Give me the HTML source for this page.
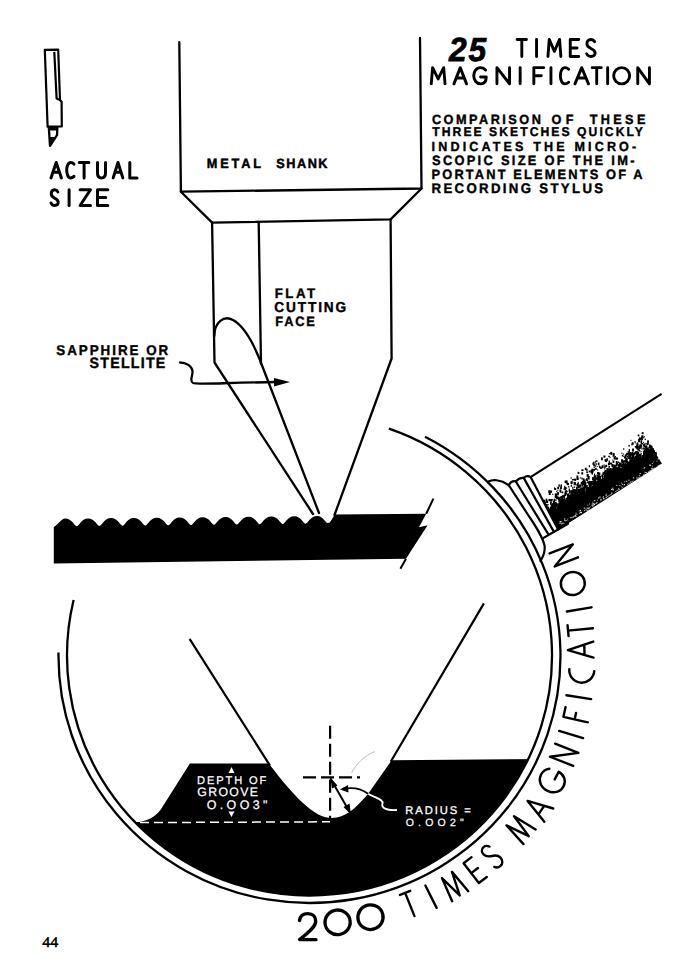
<!DOCTYPE html>
<html><head><meta charset="utf-8"><style>
html,body{margin:0;padding:0;background:#fff;overflow:hidden}
svg{display:block}
text{font-family:"Liberation Sans", sans-serif;text-rendering:geometricPrecision}
</style></head><body>
<svg width="698" height="973" viewBox="0 0 698 973">
<g fill="none" stroke="#000" stroke-width="2.2" stroke-linejoin="round">
<path d="M44.8,49.8 L58.2,49.6 L60,100 L61.6,101.8 L61.8,126.4 L47.6,126.6 Z"/>
<path d="M54.3,51.9 L56.6,98.4 L60,100"/>
</g>
<path d="M48.8,127.2 L57.4,127.2 L57,135.2 L50,145.8 Z" fill="none" stroke="#000" stroke-width="2.3" stroke-linejoin="round"/>
<path d="M48.8,127 L57.6,127 L57.4,130.5 L48.9,130.5 Z M49.3,137 L55.5,137 L50,146 Z" fill="#000"/>
<g fill="none" stroke="#000" stroke-width="3.0" stroke-linecap="round" stroke-linejoin="round"><path transform="translate(51.00,177.90)" d="M0,0 L5.20,-15.40 L10.40,0 M2.08,-5.54 L8.32,-5.54"/><path transform="translate(66.70,177.90)" d="M7.30,-13.86 C5.84,-15.40 4.53,-15.40 4.01,-15.40 C1.46,-15.40 0,-11.55 0,-7.70 C0,-3.85 1.46,0 4.01,0 C4.53,0 5.84,0 7.30,-1.54"/><path transform="translate(79.30,177.90)" d="M0,-15.40 L9.60,-15.40 M4.80,-15.40 L4.80,0"/><path transform="translate(97.50,177.90)" d="M0,-15.40 L0,-4.62 C0,-1.23 1.60,0 4.00,0 C6.40,0 8.00,-1.23 8.00,-4.62 L8.00,-15.40"/><path transform="translate(113.20,177.90)" d="M0,0 L4.80,-15.40 L9.60,0 M1.92,-5.54 L7.68,-5.54"/><path transform="translate(129.80,177.90)" d="M0,-15.40 L0,0 L7.20,0"/></g>
<g fill="none" stroke="#000" stroke-width="3.0" stroke-linecap="round" stroke-linejoin="round"><path transform="translate(51.00,205.50)" d="M6.84,-13.59 C5.90,-15.33 4.90,-15.80 3.60,-15.80 C1.44,-15.80 0.22,-14.22 0.22,-11.69 C0.22,-9.16 1.80,-8.22 3.60,-7.43 C5.62,-6.48 7.20,-5.37 7.20,-3.16 C7.20,-0.95 5.76,0 3.60,0 C2.16,0 0.72,-0.79 0,-2.53"/><path transform="translate(69.10,205.50)" d="M0,-15.80 L0,0"/><path transform="translate(80.10,205.50)" d="M0,-15.80 L10.40,-15.80 L0,0 L10.40,0"/><path transform="translate(97.50,205.50)" d="M10.30,-15.80 L0,-15.80 L0,0 L10.30,0 M0,-7.90 L8.24,-7.90"/></g>
<g fill="none" stroke="#000" stroke-width="2.3" stroke-linecap="round" stroke-linejoin="round">
<path d="M179.3,42.1 L180.9,191.7 L421.5,188.5 L420,38"/>
<path d="M180.9,191.7 L212.1,222.6 L390.6,219.4 L421.5,188.5"/>
<path d="M212.1,222.6 L214.5,362.5 L313,514"/>
<path d="M258.7,223 L261,364"/>
<path d="M390.6,219.4 L391.6,358.5 L334.5,515"/>
<path d="M214.3,336 C214.5,322 224,315 233,320 C244,326 255,346 263,368 L319,513"/>
<path d="M180,362.5 C186,362.5 192,366 192.5,371 C193,376 189,381 193,383 C196,384.5 205,383.5 276,382"/>
</g>
<path d="M274,378 L290,382 L274,386.5 Z" fill="#000"/>
<text transform="translate(206.81,167.55) scale(0.9500,1)" font-size="13.37" font-weight="bold" font-style="normal" letter-spacing="3.03" fill="#000" stroke="#000" stroke-width="0.5" stroke-linejoin="round">METAL</text>
<text transform="translate(276.29,167.55) scale(0.9500,1)" font-size="13.37" font-weight="bold" font-style="normal" letter-spacing="1.60" fill="#000" stroke="#000" stroke-width="0.5" stroke-linejoin="round">SHANK</text>
<text transform="translate(274.63,297.80) scale(0.9500,1)" font-size="13.95" font-weight="bold" font-style="normal" letter-spacing="2.71" fill="#000" stroke="#000" stroke-width="0.4" stroke-linejoin="round">FLAT</text>
<text transform="translate(274.34,312.00) scale(0.9500,1)" font-size="14.39" font-weight="bold" font-style="normal" letter-spacing="1.96" fill="#000" stroke="#000" stroke-width="0.4" stroke-linejoin="round">CUTTING</text>
<text transform="translate(275.35,326.20) scale(0.9500,1)" font-size="13.52" font-weight="bold" font-style="normal" letter-spacing="1.86" fill="#000" stroke="#000" stroke-width="0.4" stroke-linejoin="round">FACE</text>
<text transform="translate(56.22,355.20) scale(0.9500,1)" font-size="14.10" font-weight="bold" font-style="normal" letter-spacing="2.08" fill="#000" stroke="#000" stroke-width="0.4" stroke-linejoin="round">SAPPHIRE OR</text>
<text transform="translate(89.60,368.10) scale(0.9500,1)" font-size="14.97" font-weight="bold" font-style="normal" letter-spacing="1.29" fill="#000" stroke="#000" stroke-width="0.4" stroke-linejoin="round">STELLITE</text>
<text transform="translate(449.11,60.60) scale(0.9500,1)" font-size="33.38" font-weight="bold" font-style="italic" letter-spacing="1.84" fill="#000" stroke="#000" stroke-width="0.8" stroke-linejoin="round">25</text>
<g fill="none" stroke="#000" stroke-width="2.9" stroke-linecap="round" stroke-linejoin="round"><path transform="translate(517.15,56.45)" d="M0,-17.00 L9.30,-17.00 M4.65,-17.00 L4.65,0"/><path transform="translate(536.55,56.45)" d="M0,-17.00 L0,0"/><path transform="translate(547.95,56.45)" d="M0,0 L1.29,-17.00 L6.45,-5.10 L11.61,-17.00 L12.90,0"/><path transform="translate(570.25,56.45)" d="M8.50,-17.00 L0,-17.00 L0,0 L8.50,0 M0,-8.50 L6.80,-8.50"/><path transform="translate(586.65,56.45)" d="M8.07,-14.62 C6.97,-16.49 5.78,-17.00 4.25,-17.00 C1.70,-17.00 0.25,-15.30 0.25,-12.58 C0.25,-9.86 2.12,-8.84 4.25,-7.99 C6.63,-6.97 8.50,-5.78 8.50,-3.40 C8.50,-1.02 6.80,0 4.25,0 C2.55,0 0.85,-0.85 0,-2.72"/></g>
<g fill="none" stroke="#000" stroke-width="2.9" stroke-linecap="round" stroke-linejoin="round"><path transform="translate(431.25,83.85)" d="M0,0 L1.38,-16.20 L6.90,-4.86 L12.42,-16.20 L13.80,0"/><path transform="translate(453.95,83.85)" d="M0,0 L6.30,-16.20 L12.60,0 M2.52,-5.83 L10.08,-5.83"/><path transform="translate(473.75,83.85)" d="M11.87,-13.77 C10.00,-16.20 8.12,-16.20 6.50,-16.20 C2.50,-16.20 0,-12.15 0,-8.10 C0,-3.56 2.75,0 6.87,0 C10.62,0 12.50,-2.43 12.50,-6.80 L6.87,-6.80"/><path transform="translate(496.95,83.85)" d="M0,0 L0,-16.20 L12.60,0 L12.60,-16.20"/><path transform="translate(520.15,83.85)" d="M0,-16.20 L0,0"/><path transform="translate(533.85,83.85)" d="M0,0 L0,-16.20 L9.90,-16.20 M0,-8.10 L7.43,-8.10"/><path transform="translate(550.95,83.85)" d="M0,-16.20 L0,0"/><path transform="translate(560.35,83.85)" d="M8.30,-14.58 C6.64,-16.20 5.15,-16.20 4.57,-16.20 C1.66,-16.20 0,-12.15 0,-8.10 C0,-4.05 1.66,0 4.57,0 C5.15,0 6.64,0 8.30,-1.62"/><path transform="translate(574.95,83.85)" d="M0,0 L6.75,-16.20 L13.50,0 M2.70,-5.83 L10.80,-5.83"/><path transform="translate(592.15,83.85)" d="M0,-16.20 L9.10,-16.20 M4.55,-16.20 L4.55,0"/><path transform="translate(607.65,83.85)" d="M0,-16.20 L0,0"/><path transform="translate(613.65,83.85)" d="M8.00,-16.20 A8.00,8.10 0 1 0 8.00,0 A8.00,8.10 0 1 0 8.00,-16.20 Z"/><path transform="translate(637.75,83.85)" d="M0,0 L0,-16.20 L11.70,0 L11.70,-16.20"/></g>
<text transform="translate(431.88,123.60) scale(0.9500,1)" font-size="13.37" font-weight="bold" font-style="normal" letter-spacing="2.63" fill="#000" stroke="#000" stroke-width="0.4" stroke-linejoin="round">COMPARISON</text>
<text transform="translate(551.58,123.60) scale(0.9500,1)" font-size="13.37" font-weight="bold" font-style="normal" letter-spacing="4.56" fill="#000" stroke="#000" stroke-width="0.4" stroke-linejoin="round">OF</text>
<text transform="translate(589.76,123.60) scale(0.9500,1)" font-size="13.37" font-weight="bold" font-style="normal" letter-spacing="3.50" fill="#000" stroke="#000" stroke-width="0.4" stroke-linejoin="round">THESE</text>
<text transform="translate(432.27,136.40) scale(0.9500,1)" font-size="12.79" font-weight="bold" font-style="normal" letter-spacing="2.16" fill="#000" stroke="#000" stroke-width="0.4" stroke-linejoin="round">THREE SKETCHES QUICKLY</text>
<text transform="translate(431.57,150.90) scale(0.9500,1)" font-size="13.23" font-weight="bold" font-style="normal" letter-spacing="3.31" fill="#000" stroke="#000" stroke-width="0.4" stroke-linejoin="round">INDICATES THE MICRO-</text>
<text transform="translate(432.04,164.80) scale(0.9500,1)" font-size="13.52" font-weight="bold" font-style="normal" letter-spacing="2.42" fill="#000" stroke="#000" stroke-width="0.4" stroke-linejoin="round">SCOPIC SIZE OF THE IM-</text>
<text transform="translate(431.55,178.90) scale(0.9500,1)" font-size="13.52" font-weight="bold" font-style="normal" letter-spacing="2.25" fill="#000" stroke="#000" stroke-width="0.4" stroke-linejoin="round">PORTANT ELEMENTS OF A</text>
<text transform="translate(431.53,192.80) scale(0.9500,1)" font-size="13.95" font-weight="bold" font-style="normal" letter-spacing="2.44" fill="#000" stroke="#000" stroke-width="0.4" stroke-linejoin="round">RECORDING STYLUS</text>
<path d="M53.8,563.4 L53.8,527 C56.0,527 61.2,518.6 65.2,518.6 C72.1,518.6 74.4,526.3 76.7,526.3 C78.9,526.3 81.2,518.4 88.1,518.4 C95.0,518.4 97.3,526.0 99.5,526.0 C101.8,526.0 104.1,518.1 111.0,518.1 C117.9,518.1 120.2,525.8 122.5,525.8 C124.7,525.8 127.0,517.9 133.9,517.9 C140.8,517.9 143.1,525.5 145.3,525.5 C147.6,525.5 149.9,517.7 156.8,517.7 C163.7,517.7 166.0,525.3 168.2,525.3 C170.5,525.3 172.8,517.4 179.7,517.4 C186.6,517.4 188.9,525.0 191.1,525.0 C193.4,525.0 195.7,517.2 202.6,517.2 C209.5,517.2 211.8,524.7 214.0,524.7 C216.3,524.7 218.6,516.9 225.5,516.9 C232.4,516.9 234.7,524.5 236.9,524.5 C239.2,524.5 241.5,516.7 248.4,516.7 C255.3,516.7 257.6,524.2 259.8,524.2 C262.1,524.2 264.4,516.5 271.3,516.5 C278.2,516.5 280.5,524.0 282.8,524.0 C285.0,524.0 287.3,516.2 294.2,516.2 C301.1,516.2 303.4,523.7 305.6,523.7 C307.9,523.7 310.2,516.0 317.1,516.0 C320.5,516 323,518 325.5,521.5 Q328,524.5 330.5,521.5 L334.8,514.6 L426.2,513.8 L419,527.3 L427.6,525.3 L406,558.8 Z" fill="#000"/>
<path d="M433.4,498.6 L426.2,513.8 M406,558.8 L400.4,568.8" stroke="#000" stroke-width="2" fill="none"/>
<defs><clipPath id="lens"><ellipse cx="309.5" cy="655.5" rx="242.5" ry="240.0"/></clipPath></defs>
<path d="M60,822.6 L139.5,822 C150,820 158,815 163,806 L189.9,763.6 L268.7,763.6 C283,782 293,794 303,803 C313,812 322,818 332,818 C345,818 355,809 368,794 L391.7,760.2 L600,758.5 L600,1000 L60,1000 Z" fill="#000" clip-path="url(#lens)"/>
<path d="M189.6,638.9 L270,765.6 M483.9,603.4 L390.7,761.8" stroke="#000" stroke-width="2.2" fill="none"/>
<path d="M140,822.6 L330,821.8" stroke="#fff" stroke-width="1.5" stroke-dasharray="9 5" fill="none"/>
<path d="M330.1,725.8 L330.1,818" stroke="#000" stroke-width="2.2" stroke-dasharray="13 5" fill="none"/>
<path d="M303,777.4 L360,777.4" stroke="#000" stroke-width="2.2" stroke-dasharray="13 5" fill="none"/>
<path d="M330.5,778.5 L348.5,810" stroke="#000" stroke-width="2" fill="none"/>
<path d="M351,814.5 L343.5,807 L349.5,803.5 Z M330.5,778 L337.5,785.5 L332,788.5 Z" fill="#000"/>
<defs><clipPath id="blk"><path d="M60,822.6 L139.5,822 C150,820 158,815 163,806 L189.9,763.6 L268.7,763.6 C283,782 293,794 303,803 C313,812 322,818 332,818 C345,818 355,809 368,794 L391.7,760.2 L600,758.5 L600,1000 L60,1000 Z"/></clipPath></defs>
<path d="M342,789 C352,787 361,788.5 367,793 C374,798 384,799 382.5,803.5 C381,808 386,810.5 397,810" stroke="#000" stroke-width="1.8" fill="none"/>
<path d="M342,789 C352,787 361,788.5 367,793 C374,798 384,799 382.5,803.5 C381,808 386,810.5 397,810" stroke="#fff" stroke-width="1.8" fill="none" clip-path="url(#blk)"/>
<path d="M340,789.5 L348,785 L348.5,792.5 Z" fill="#000"/>
<path d="M351.6,773 C356,764 364,756 374.6,751.6" stroke="#bbb" stroke-width="1" fill="none"/>
<text transform="translate(197.01,783.98) scale(1.0000,1)" font-size="11.12" font-weight="normal" font-style="normal" letter-spacing="1.88" fill="#fff" stroke="#fff" stroke-width="0.25" stroke-linejoin="round">DEPTH OF</text>
<text transform="translate(197.31,795.88) scale(1.0000,1)" font-size="12.28" font-weight="normal" font-style="normal" letter-spacing="1.35" fill="#fff" stroke="#fff" stroke-width="0.25" stroke-linejoin="round">GROOVE</text>
<text transform="translate(206.74,808.58) scale(1.0000,1)" font-size="12.43" font-weight="normal" font-style="normal" letter-spacing="3.38" fill="#fff" stroke="#fff" stroke-width="0.25" stroke-linejoin="round">O.OO3"</text>
<path d="M228.5,773 L231.5,767 L234.5,773 Z M228.5,811.5 L234.5,811.5 L231.5,817 Z" fill="#fff"/>
<text transform="translate(405.23,814.45) scale(1.0000,1)" font-size="11.19" font-weight="normal" font-style="normal" letter-spacing="1.96" fill="#fff" stroke="#fff" stroke-width="0.3" stroke-linejoin="round">RADIUS =</text>
<text transform="translate(405.63,825.88) scale(1.0000,1)" font-size="10.54" font-weight="normal" font-style="normal" letter-spacing="4.19" fill="#fff" stroke="#fff" stroke-width="0.25" stroke-linejoin="round">O.OO2"</text>
<path d="M73.6,599.9 A242.5,240.0 0 1 0 388.9,428.7" stroke="#000" stroke-width="2.3" fill="none"/>
<path d="M58.5,652.6 A251.0,247.0 0 1 0 425.0,436.7" stroke="#000" stroke-width="2.3" fill="none"/>
<defs><clipPath id="hcl"><path d="M530.6,477 L558.1,529.5 L700,445 L700,380 L530.6,380 Z"/></clipPath></defs><g clip-path="url(#hcl)">
<polygon points="548.0,536.3 662.0,463.5 651.6,447.2 652.2,451.2 650.8,451.0 647.1,448.7 644.3,448.0 644.7,453.0 642.9,452.3 643.1,455.5 641.1,454.5 641.6,457.8 637.0,453.0 637.0,455.6 635.2,457.1 636.0,460.8 633.8,461.3 630.9,459.5 630.4,462.7 628.7,463.9 627.4,466.4 624.9,464.7 621.5,462.8 622.1,468.3 617.9,466.2 618.7,469.9 614.2,467.0 616.1,472.2 612.6,471.0 609.6,469.5 610.5,474.0 609.4,475.8 608.4,477.7 606.6,477.0 603.4,474.8 604.5,479.1 602.8,481.1 598.1,477.4 599.4,482.3 597.0,482.9 592.4,479.8 594.3,485.4 593.3,486.8 591.6,487.8 589.6,488.5 586.6,487.0 584.6,486.2 586.5,491.2 585.3,491.8 580.0,487.5 582.3,493.9 578.3,490.2 579.5,495.8 574.4,490.8 573.3,492.1 575.9,498.7 570.0,493.7 569.1,495.2 568.1,496.6 569.1,500.3 567.9,500.8 563.9,498.5 561.1,498.8 562.2,503.0 560.3,503.8 558.6,504.7 557.0,506.4 557.2,510.0 555.4,509.6 553.1,508.0 553.7,511.0 550.0,508.7 546.6,507.8 546.9,510.3 547.5,515.4 546.3,516.2 542.1,513.8 542.5,517.7 539.5,516.5 536.3,514.6 536.8,518.7" fill="#000"/>
<g fill="#000"><rect x="538.3" y="515.8" width="1.5" height="2.3"/><rect x="545.5" y="513.5" width="1.9" height="3.2"/><rect x="619.6" y="463.2" width="1.9" height="3.3"/><rect x="575.7" y="491.2" width="2.1" height="3.5"/><rect x="581.4" y="483.8" width="2.0" height="2.8"/><rect x="609.9" y="476.2" width="1.7" height="2.3"/><rect x="545.1" y="511.5" width="2.2" height="3.7"/><rect x="621.7" y="468.8" width="1.9" height="2.6"/><rect x="583.0" y="480.4" width="1.0" height="1.6"/><rect x="539.7" y="515.8" width="1.5" height="1.6"/><rect x="617.5" y="469.6" width="1.7" height="2.9"/><rect x="569.6" y="505.8" width="1.3" height="1.9"/><rect x="562.7" y="508.4" width="2.1" height="3.0"/><rect x="581.4" y="477.6" width="1.3" height="1.9"/><rect x="560.6" y="506.2" width="1.9" height="3.3"/><rect x="639.2" y="457.9" width="1.7" height="1.9"/><rect x="552.9" y="509.8" width="2.0" height="3.3"/><rect x="609.0" y="453.1" width="1.3" height="1.2"/><rect x="590.6" y="489.8" width="1.2" height="1.4"/><rect x="609.2" y="474.8" width="1.3" height="2.1"/><rect x="650.4" y="449.9" width="1.0" height="0.8"/><rect x="640.3" y="461.4" width="1.8" height="2.5"/><rect x="569.0" y="491.5" width="0.9" height="0.9"/><rect x="592.4" y="491.5" width="2.0" height="2.1"/><rect x="556.2" y="513.8" width="1.7" height="2.1"/><rect x="608.0" y="471.9" width="1.9" height="3.4"/><rect x="617.9" y="473.7" width="1.5" height="1.5"/><rect x="538.7" y="519.1" width="1.8" height="1.8"/><rect x="569.7" y="501.8" width="1.8" height="2.4"/><rect x="604.7" y="470.7" width="1.4" height="2.2"/><rect x="643.9" y="458.7" width="2.1" height="3.2"/><rect x="552.6" y="510.8" width="1.7" height="2.9"/><rect x="579.9" y="491.5" width="2.0" height="3.3"/><rect x="646.0" y="452.4" width="1.7" height="1.8"/><rect x="615.8" y="461.0" width="1.7" height="2.6"/><rect x="554.8" y="493.4" width="2.2" height="3.9"/><rect x="595.2" y="475.2" width="1.3" height="2.3"/><rect x="636.7" y="460.1" width="1.0" height="1.3"/><rect x="597.1" y="474.9" width="1.5" height="1.3"/><rect x="632.9" y="465.8" width="1.9" height="1.9"/><rect x="572.0" y="489.7" width="1.1" height="1.0"/><rect x="594.0" y="478.5" width="2.0" height="3.0"/><rect x="645.9" y="451.9" width="2.1" height="1.9"/><rect x="562.4" y="503.3" width="1.3" height="2.0"/><rect x="610.4" y="473.5" width="2.0" height="2.7"/><rect x="574.0" y="498.6" width="2.0" height="3.4"/><rect x="556.0" y="496.4" width="2.2" height="2.9"/><rect x="605.1" y="481.7" width="1.6" height="2.1"/><rect x="609.6" y="480.7" width="2.2" height="2.8"/><rect x="579.3" y="484.6" width="1.6" height="2.1"/><rect x="619.3" y="474.3" width="1.6" height="1.9"/><rect x="639.0" y="438.4" width="1.2" height="1.6"/><rect x="552.4" y="511.2" width="2.0" height="3.3"/><rect x="593.3" y="487.5" width="1.1" height="1.6"/><rect x="645.9" y="457.0" width="1.9" height="1.6"/><rect x="561.4" y="508.5" width="1.8" height="2.0"/><rect x="576.9" y="492.2" width="1.0" height="1.6"/><rect x="551.3" y="510.6" width="1.2" height="1.2"/><rect x="598.7" y="482.4" width="1.4" height="1.7"/><rect x="600.3" y="485.1" width="1.2" height="1.7"/><rect x="610.3" y="473.4" width="2.0" height="2.8"/><rect x="637.5" y="461.1" width="1.9" height="3.0"/><rect x="642.2" y="457.0" width="1.3" height="2.3"/><rect x="641.5" y="459.7" width="1.2" height="1.8"/><rect x="569.6" y="504.9" width="2.0" height="2.4"/><rect x="630.4" y="466.7" width="1.4" height="2.1"/><rect x="541.3" y="521.4" width="1.8" height="3.1"/><rect x="650.9" y="454.1" width="1.6" height="2.4"/><rect x="593.0" y="480.4" width="1.1" height="1.0"/><rect x="552.3" y="516.3" width="1.6" height="2.1"/><rect x="604.9" y="482.4" width="1.1" height="1.1"/><rect x="646.2" y="457.2" width="1.0" height="1.7"/><rect x="587.1" y="481.4" width="1.3" height="1.7"/><rect x="597.0" y="483.5" width="1.7" height="1.4"/><rect x="612.7" y="461.5" width="1.1" height="1.4"/><rect x="622.9" y="467.8" width="1.2" height="1.1"/><rect x="599.0" y="487.4" width="2.1" height="3.3"/><rect x="612.7" y="460.5" width="1.7" height="2.1"/><rect x="606.1" y="476.5" width="2.2" height="3.5"/><rect x="559.5" y="489.4" width="1.9" height="2.9"/><rect x="631.5" y="462.4" width="2.1" height="3.5"/><rect x="613.7" y="464.6" width="1.9" height="2.3"/><rect x="622.9" y="472.0" width="1.3" height="1.7"/><rect x="539.6" y="520.4" width="1.7" height="2.5"/><rect x="554.4" y="488.0" width="1.8" height="2.0"/><rect x="612.4" y="471.3" width="1.6" height="1.9"/><rect x="650.6" y="445.7" width="1.8" height="2.8"/><rect x="652.7" y="453.9" width="1.7" height="2.6"/><rect x="567.5" y="502.3" width="1.0" height="1.0"/><rect x="582.9" y="496.6" width="1.2" height="2.1"/><rect x="600.3" y="480.0" width="2.2" height="3.0"/><rect x="650.1" y="446.1" width="2.0" height="1.7"/><rect x="602.7" y="471.8" width="1.0" height="1.7"/><rect x="555.9" y="508.4" width="1.1" height="1.5"/><rect x="610.2" y="480.0" width="2.1" height="2.6"/><rect x="596.8" y="480.3" width="1.4" height="1.5"/><rect x="611.9" y="471.8" width="1.3" height="1.9"/><rect x="574.2" y="502.9" width="1.2" height="1.0"/><rect x="552.2" y="503.5" width="1.4" height="2.4"/><rect x="625.9" y="470.3" width="2.2" height="3.8"/><rect x="538.5" y="503.0" width="1.5" height="1.9"/><rect x="650.8" y="452.7" width="1.6" height="2.7"/><rect x="620.5" y="468.2" width="2.2" height="3.5"/><rect x="609.0" y="480.2" width="1.7" height="2.1"/><rect x="563.4" y="509.2" width="1.6" height="1.5"/><rect x="586.3" y="485.1" width="1.5" height="1.6"/><rect x="604.8" y="478.8" width="1.9" height="2.5"/><rect x="641.7" y="432.2" width="1.9" height="1.9"/><rect x="543.7" y="501.0" width="1.9" height="2.7"/><rect x="580.1" y="496.3" width="1.8" height="2.4"/><rect x="603.9" y="475.1" width="1.9" height="1.9"/><rect x="636.3" y="444.4" width="1.0" height="0.8"/><rect x="569.0" y="501.0" width="1.7" height="1.5"/><rect x="602.1" y="484.9" width="1.0" height="1.5"/><rect x="599.2" y="478.1" width="1.4" height="1.8"/><rect x="562.6" y="506.3" width="1.9" height="3.1"/><rect x="548.2" y="518.0" width="2.0" height="2.8"/><rect x="627.5" y="467.6" width="1.5" height="1.5"/><rect x="631.2" y="463.1" width="1.7" height="3.1"/><rect x="574.2" y="495.5" width="1.9" height="3.2"/><rect x="587.4" y="490.5" width="1.0" height="1.7"/><rect x="548.9" y="518.0" width="1.6" height="2.1"/><rect x="617.4" y="472.7" width="1.9" height="1.7"/><rect x="560.1" y="501.6" width="1.0" height="1.1"/><rect x="618.4" y="464.3" width="1.3" height="1.2"/><rect x="575.8" y="489.8" width="1.4" height="1.3"/><rect x="618.1" y="467.7" width="2.1" height="3.6"/><rect x="642.6" y="454.9" width="1.9" height="2.1"/><rect x="574.5" y="498.0" width="2.1" height="3.6"/><rect x="566.8" y="503.4" width="1.4" height="1.6"/><rect x="583.6" y="492.6" width="1.2" height="1.6"/><rect x="628.4" y="461.9" width="2.0" height="2.7"/><rect x="554.4" y="501.9" width="2.0" height="2.2"/><rect x="539.7" y="517.7" width="1.6" height="2.2"/><rect x="646.7" y="447.9" width="1.9" height="1.7"/><rect x="596.3" y="474.6" width="1.0" height="0.9"/><rect x="615.0" y="456.0" width="1.0" height="1.4"/><rect x="550.9" y="504.6" width="1.7" height="1.8"/><rect x="559.3" y="498.6" width="1.6" height="2.5"/><rect x="583.8" y="493.2" width="2.2" height="3.2"/><rect x="593.6" y="483.7" width="1.8" height="2.8"/><rect x="643.0" y="455.1" width="2.0" height="2.9"/><rect x="631.2" y="452.1" width="2.0" height="3.4"/><rect x="645.8" y="448.8" width="1.6" height="2.4"/><rect x="630.0" y="463.1" width="1.4" height="1.4"/><rect x="582.6" y="496.1" width="1.2" height="1.4"/><rect x="545.5" y="517.4" width="1.0" height="1.5"/><rect x="628.5" y="467.3" width="1.0" height="1.2"/><rect x="597.0" y="466.2" width="0.9" height="0.9"/><rect x="560.4" y="509.3" width="1.2" height="1.8"/><rect x="607.4" y="479.9" width="1.1" height="1.2"/><rect x="554.0" y="502.3" width="1.3" height="1.8"/><rect x="631.3" y="461.3" width="1.2" height="2.1"/><rect x="643.4" y="455.9" width="1.6" height="2.8"/><rect x="594.6" y="488.0" width="1.0" height="1.7"/><rect x="630.2" y="463.6" width="1.6" height="2.1"/><rect x="614.6" y="475.3" width="0.9" height="1.2"/><rect x="576.0" y="486.8" width="1.8" height="2.6"/><rect x="557.6" y="511.8" width="1.3" height="1.4"/><rect x="636.9" y="457.1" width="1.7" height="3.1"/><rect x="567.6" y="499.9" width="1.1" height="1.7"/><rect x="533.0" y="512.5" width="2.0" height="3.2"/><rect x="548.4" y="516.1" width="1.8" height="1.6"/><rect x="592.6" y="485.6" width="2.1" height="3.0"/><rect x="637.1" y="460.4" width="1.9" height="2.3"/><rect x="645.1" y="457.9" width="2.0" height="2.0"/><rect x="599.4" y="480.3" width="1.1" height="1.8"/><rect x="574.4" y="499.4" width="1.0" height="1.1"/><rect x="588.5" y="482.3" width="1.4" height="2.0"/><rect x="550.2" y="513.2" width="1.5" height="2.7"/><rect x="630.9" y="457.7" width="0.9" height="1.1"/><rect x="620.6" y="471.5" width="1.6" height="2.1"/><rect x="631.0" y="465.4" width="1.7" height="1.9"/><rect x="580.1" y="492.0" width="1.3" height="1.5"/><rect x="580.5" y="488.7" width="1.2" height="1.2"/><rect x="622.5" y="469.1" width="2.1" height="2.9"/><rect x="621.6" y="469.7" width="2.0" height="1.8"/><rect x="556.0" y="513.4" width="1.8" height="2.7"/><rect x="558.7" y="507.8" width="2.0" height="2.8"/><rect x="549.5" y="516.0" width="1.1" height="1.0"/><rect x="586.6" y="494.6" width="2.1" height="2.6"/><rect x="594.5" y="480.5" width="1.9" height="3.1"/><rect x="582.8" y="493.8" width="1.4" height="1.2"/><rect x="581.1" y="487.4" width="2.2" height="3.5"/><rect x="612.0" y="470.6" width="0.9" height="1.0"/><rect x="575.0" y="492.6" width="1.0" height="1.2"/><rect x="592.0" y="477.2" width="2.0" height="2.8"/><rect x="552.2" y="503.0" width="2.1" height="2.8"/><rect x="577.7" y="494.3" width="1.1" height="1.6"/><rect x="650.4" y="448.7" width="1.8" height="3.0"/><rect x="550.4" y="490.5" width="1.7" height="1.7"/><rect x="548.6" y="516.3" width="1.6" height="2.5"/><rect x="566.6" y="482.8" width="1.4" height="1.7"/><rect x="545.7" y="498.7" width="1.6" height="2.2"/><rect x="603.3" y="482.0" width="2.1" height="3.7"/><rect x="630.1" y="459.5" width="1.1" height="1.7"/><rect x="563.6" y="488.2" width="1.2" height="1.7"/><rect x="634.7" y="463.4" width="1.6" height="1.4"/><rect x="543.1" y="520.5" width="2.2" height="3.8"/><rect x="614.3" y="474.6" width="1.8" height="2.7"/><rect x="580.2" y="490.8" width="1.9" height="1.6"/><rect x="560.4" y="505.6" width="1.1" height="1.3"/><rect x="604.8" y="482.1" width="1.6" height="1.7"/><rect x="603.7" y="480.8" width="1.7" height="1.5"/><rect x="616.6" y="475.1" width="2.1" height="3.0"/><rect x="591.9" y="487.0" width="1.7" height="2.5"/><rect x="621.3" y="460.5" width="1.5" height="2.7"/><rect x="628.2" y="451.2" width="1.4" height="1.8"/><rect x="595.1" y="467.8" width="1.6" height="2.1"/><rect x="579.8" y="477.4" width="1.3" height="1.1"/><rect x="613.6" y="456.7" width="1.9" height="2.6"/><rect x="625.0" y="467.9" width="1.7" height="1.5"/><rect x="552.0" y="511.3" width="1.6" height="1.9"/><rect x="541.1" y="512.4" width="1.6" height="1.6"/><rect x="573.2" y="498.9" width="1.2" height="1.0"/><rect x="608.0" y="463.0" width="1.4" height="2.3"/><rect x="559.8" y="499.0" width="1.6" height="2.8"/><rect x="544.8" y="506.5" width="1.1" height="1.4"/><rect x="649.4" y="456.1" width="1.2" height="1.3"/><rect x="577.3" y="500.5" width="2.1" height="3.3"/><rect x="584.0" y="492.8" width="1.7" height="1.4"/><rect x="534.0" y="506.5" width="1.3" height="1.7"/><rect x="593.5" y="488.8" width="1.3" height="2.2"/><rect x="642.3" y="458.5" width="2.0" height="2.3"/><rect x="593.7" y="489.1" width="2.0" height="3.7"/><rect x="559.1" y="503.0" width="1.1" height="1.9"/><rect x="545.5" y="519.8" width="1.8" height="2.1"/><rect x="634.8" y="446.0" width="1.8" height="1.7"/><rect x="608.2" y="455.7" width="1.5" height="1.3"/><rect x="564.3" y="505.7" width="1.8" height="1.8"/><rect x="559.9" y="509.4" width="1.8" height="2.8"/><rect x="578.3" y="490.2" width="2.0" height="2.8"/><rect x="565.0" y="505.4" width="2.1" height="3.1"/><rect x="567.6" y="497.5" width="1.0" height="1.8"/><rect x="587.6" y="487.6" width="1.6" height="1.3"/><rect x="607.7" y="479.0" width="1.2" height="2.0"/><rect x="548.8" y="515.7" width="1.9" height="2.0"/><rect x="568.9" y="498.8" width="1.1" height="1.9"/><rect x="653.5" y="453.3" width="1.5" height="2.3"/><rect x="573.0" y="478.8" width="1.5" height="1.5"/><rect x="599.6" y="477.4" width="1.4" height="2.0"/><rect x="627.0" y="463.2" width="1.6" height="2.6"/><rect x="615.6" y="470.3" width="2.1" height="2.1"/><rect x="629.0" y="467.2" width="1.7" height="1.8"/><rect x="584.4" y="482.7" width="1.9" height="3.1"/><rect x="564.4" y="502.8" width="1.2" height="1.6"/><rect x="597.4" y="488.2" width="1.7" height="2.5"/><rect x="597.1" y="469.3" width="1.1" height="1.1"/><rect x="539.3" y="518.3" width="1.5" height="1.8"/><rect x="563.5" y="494.6" width="1.0" height="1.7"/><rect x="602.2" y="478.2" width="1.9" height="2.0"/><rect x="555.4" y="511.2" width="1.0" height="1.1"/><rect x="608.4" y="474.7" width="1.2" height="1.7"/><rect x="543.0" y="506.3" width="1.1" height="1.2"/><rect x="553.5" y="504.8" width="2.0" height="3.1"/><rect x="545.0" y="516.2" width="1.4" height="1.4"/><rect x="651.5" y="454.4" width="1.5" height="2.4"/><rect x="652.8" y="452.6" width="1.5" height="2.3"/><rect x="543.6" y="519.5" width="2.1" height="1.9"/><rect x="583.8" y="493.7" width="1.5" height="1.3"/><rect x="622.2" y="460.6" width="1.2" height="1.3"/><rect x="602.4" y="482.8" width="1.5" height="2.6"/><rect x="580.3" y="495.4" width="2.2" height="3.1"/><rect x="542.6" y="517.8" width="1.7" height="1.5"/><rect x="574.5" y="491.6" width="2.0" height="2.8"/><rect x="639.3" y="456.6" width="1.4" height="2.3"/><rect x="577.5" y="486.6" width="1.2" height="1.4"/><rect x="557.9" y="505.7" width="1.1" height="1.1"/><rect x="562.2" y="504.6" width="1.3" height="1.6"/><rect x="649.4" y="445.4" width="2.0" height="2.0"/><rect x="583.9" y="496.3" width="1.8" height="2.1"/><rect x="571.7" y="504.4" width="1.1" height="1.2"/><rect x="574.3" y="478.7" width="1.8" height="2.0"/><rect x="581.0" y="497.2" width="2.1" height="2.5"/><rect x="622.6" y="460.7" width="2.1" height="1.7"/><rect x="575.1" y="497.9" width="1.0" height="1.7"/><rect x="571.2" y="491.0" width="1.6" height="1.3"/><rect x="584.3" y="494.1" width="1.0" height="0.9"/><rect x="608.5" y="481.4" width="1.3" height="1.6"/><rect x="602.1" y="484.3" width="1.8" height="1.9"/><rect x="618.8" y="464.9" width="1.1" height="1.1"/><rect x="567.1" y="495.7" width="1.4" height="1.7"/><rect x="638.6" y="460.5" width="1.3" height="1.5"/><rect x="564.8" y="508.4" width="0.9" height="1.3"/><rect x="598.1" y="472.5" width="2.2" height="2.4"/><rect x="606.4" y="459.2" width="1.2" height="1.8"/><rect x="603.4" y="455.5" width="2.0" height="2.1"/><rect x="612.5" y="478.3" width="1.5" height="1.7"/><rect x="545.1" y="516.6" width="1.3" height="1.7"/><rect x="571.6" y="503.0" width="1.4" height="1.8"/><rect x="554.7" y="504.9" width="1.2" height="1.1"/><rect x="577.1" y="496.0" width="1.1" height="1.5"/><rect x="617.3" y="468.6" width="1.8" height="1.5"/><rect x="583.2" y="493.1" width="1.0" height="1.2"/><rect x="543.6" y="515.6" width="1.7" height="2.1"/><rect x="576.4" y="498.9" width="0.9" height="1.1"/><rect x="639.0" y="454.7" width="1.2" height="1.8"/><rect x="558.9" y="506.6" width="1.7" height="3.0"/><rect x="578.2" y="492.4" width="2.1" height="3.3"/><rect x="608.1" y="472.7" width="1.4" height="1.7"/><rect x="564.3" y="492.5" width="2.0" height="2.4"/><rect x="644.5" y="458.8" width="1.1" height="1.4"/><rect x="573.8" y="499.1" width="2.2" height="2.1"/><rect x="561.2" y="508.6" width="1.8" height="1.8"/><rect x="537.0" y="518.8" width="1.4" height="1.5"/><rect x="592.4" y="481.8" width="1.6" height="2.3"/><rect x="597.0" y="472.1" width="2.2" height="2.4"/><rect x="570.7" y="484.7" width="1.3" height="2.0"/><rect x="615.1" y="466.6" width="2.2" height="3.5"/><rect x="554.4" y="506.2" width="1.5" height="2.1"/><rect x="581.2" y="495.5" width="1.9" height="2.5"/><rect x="566.2" y="505.3" width="1.3" height="1.3"/><rect x="598.7" y="486.5" width="1.0" height="0.9"/><rect x="546.7" y="508.6" width="1.0" height="1.3"/><rect x="626.1" y="464.5" width="1.1" height="1.9"/><rect x="639.9" y="461.6" width="1.2" height="1.6"/><rect x="629.5" y="463.8" width="1.8" height="1.9"/><rect x="620.7" y="470.3" width="1.3" height="2.1"/><rect x="629.4" y="452.0" width="1.6" height="2.0"/><rect x="617.2" y="467.0" width="2.0" height="3.2"/><rect x="552.6" y="512.0" width="1.8" height="1.8"/><rect x="561.4" y="510.9" width="1.7" height="2.9"/><rect x="651.0" y="453.8" width="1.8" height="2.2"/><rect x="610.6" y="475.6" width="2.1" height="3.8"/><rect x="540.5" y="512.3" width="1.1" height="0.9"/><rect x="567.4" y="494.8" width="2.2" height="2.0"/><rect x="578.0" y="500.4" width="1.6" height="2.1"/><rect x="581.5" y="495.0" width="1.9" height="3.2"/><rect x="570.7" y="500.5" width="1.7" height="2.7"/><rect x="650.7" y="450.7" width="1.8" height="2.4"/><rect x="631.4" y="465.9" width="1.1" height="1.0"/><rect x="646.2" y="455.4" width="1.5" height="1.4"/><rect x="577.3" y="500.9" width="1.6" height="1.5"/><rect x="610.7" y="477.3" width="1.2" height="1.5"/><rect x="581.0" y="496.0" width="1.0" height="0.8"/><rect x="641.1" y="457.8" width="1.0" height="1.0"/><rect x="554.8" y="496.1" width="1.5" height="1.9"/><rect x="630.7" y="463.0" width="1.0" height="1.3"/><rect x="611.5" y="470.6" width="1.3" height="2.2"/><rect x="583.4" y="480.4" width="1.8" height="1.8"/><rect x="542.5" y="521.0" width="1.1" height="0.9"/><rect x="575.4" y="489.0" width="1.3" height="1.7"/><rect x="540.4" y="521.8" width="2.1" height="1.7"/><rect x="593.6" y="475.2" width="1.9" height="3.0"/><rect x="579.1" y="484.6" width="2.0" height="3.1"/><rect x="653.0" y="452.9" width="2.1" height="2.6"/><rect x="620.0" y="471.8" width="2.1" height="1.7"/><rect x="605.4" y="481.2" width="1.4" height="1.6"/><rect x="608.5" y="465.9" width="1.4" height="2.0"/><rect x="579.5" y="496.6" width="2.1" height="2.3"/><rect x="549.3" y="514.7" width="1.9" height="1.9"/><rect x="622.2" y="465.7" width="1.8" height="1.7"/><rect x="551.7" y="515.6" width="1.4" height="1.7"/><rect x="538.3" y="518.8" width="1.4" height="1.6"/><rect x="588.8" y="465.2" width="1.2" height="2.0"/><rect x="571.0" y="491.7" width="1.0" height="1.9"/><rect x="563.2" y="504.9" width="1.8" height="1.8"/><rect x="566.8" y="497.0" width="2.1" height="2.4"/><rect x="559.4" y="508.1" width="2.2" height="2.1"/><rect x="611.1" y="475.6" width="1.7" height="1.8"/><rect x="601.6" y="465.3" width="2.0" height="2.9"/><rect x="594.6" y="482.4" width="1.0" height="1.7"/><rect x="616.8" y="470.7" width="1.8" height="2.2"/><rect x="583.3" y="494.9" width="1.7" height="2.3"/><rect x="599.3" y="487.1" width="1.7" height="2.1"/><rect x="604.5" y="475.6" width="2.1" height="2.0"/><rect x="623.4" y="468.8" width="1.9" height="3.3"/><rect x="577.7" y="481.8" width="1.1" height="1.9"/><rect x="595.5" y="487.2" width="2.0" height="2.9"/><rect x="640.3" y="445.2" width="1.9" height="2.5"/><rect x="654.0" y="452.6" width="2.0" height="3.1"/><rect x="561.9" y="495.1" width="1.5" height="2.0"/><rect x="638.7" y="460.8" width="1.3" height="1.8"/><rect x="545.2" y="513.4" width="1.9" height="2.5"/><rect x="561.1" y="496.0" width="2.0" height="3.2"/><rect x="593.1" y="469.0" width="1.9" height="1.8"/><rect x="581.8" y="497.3" width="0.9" height="1.1"/><rect x="631.8" y="450.2" width="1.1" height="1.0"/><rect x="576.7" y="483.6" width="1.7" height="2.9"/><rect x="559.7" y="502.7" width="2.0" height="3.1"/><rect x="558.1" y="502.6" width="1.5" height="1.2"/><rect x="577.6" y="497.3" width="1.7" height="1.9"/><rect x="604.4" y="473.0" width="1.1" height="1.1"/><rect x="617.2" y="470.3" width="1.1" height="1.0"/><rect x="644.2" y="450.5" width="1.4" height="1.4"/><rect x="649.4" y="445.1" width="1.9" height="2.2"/><rect x="573.6" y="498.4" width="1.1" height="1.6"/><rect x="581.6" y="482.2" width="1.4" height="1.8"/><rect x="586.2" y="468.8" width="1.4" height="2.0"/><rect x="563.5" y="501.5" width="1.3" height="2.1"/><rect x="564.8" y="490.7" width="1.8" height="2.2"/><rect x="645.3" y="454.1" width="1.9" height="2.6"/><rect x="591.4" y="491.6" width="1.4" height="1.6"/><rect x="577.6" y="471.8" width="1.3" height="1.9"/><rect x="616.2" y="474.2" width="1.4" height="1.3"/><rect x="641.8" y="458.2" width="1.4" height="1.7"/><rect x="626.3" y="452.7" width="1.7" height="2.2"/><rect x="541.9" y="501.8" width="1.0" height="1.2"/><rect x="577.7" y="488.7" width="1.8" height="2.0"/><rect x="630.5" y="439.8" width="0.9" height="1.3"/><rect x="592.2" y="487.6" width="1.5" height="1.7"/><rect x="613.3" y="469.9" width="2.2" height="3.8"/><rect x="652.0" y="449.8" width="2.0" height="2.9"/><rect x="545.2" y="515.2" width="1.4" height="2.1"/><rect x="562.3" y="506.1" width="1.1" height="1.3"/><rect x="625.0" y="470.5" width="1.1" height="1.6"/><rect x="605.9" y="470.5" width="1.2" height="2.0"/><rect x="617.7" y="461.8" width="1.1" height="1.3"/><rect x="533.6" y="509.8" width="2.1" height="3.6"/><rect x="541.2" y="519.5" width="1.6" height="2.1"/><rect x="546.3" y="505.7" width="1.3" height="1.7"/><rect x="550.9" y="509.6" width="1.1" height="0.9"/><rect x="597.6" y="485.2" width="1.9" height="2.0"/><rect x="587.5" y="494.2" width="1.2" height="1.5"/><rect x="601.7" y="480.1" width="2.0" height="1.8"/><rect x="637.1" y="462.2" width="2.2" height="2.9"/><rect x="582.8" y="488.7" width="2.0" height="3.6"/><rect x="587.7" y="494.5" width="1.1" height="1.8"/><rect x="619.2" y="463.2" width="1.1" height="1.5"/><rect x="543.0" y="521.3" width="1.3" height="2.3"/><rect x="606.0" y="465.5" width="1.0" height="1.2"/><rect x="547.9" y="516.5" width="1.0" height="1.8"/><rect x="575.1" y="496.1" width="1.8" height="3.0"/><rect x="645.3" y="450.8" width="1.6" height="2.6"/><rect x="584.0" y="493.5" width="1.9" height="2.0"/><rect x="580.1" y="494.1" width="1.5" height="1.8"/><rect x="587.1" y="489.3" width="1.0" height="1.6"/><rect x="544.1" y="514.7" width="1.6" height="1.9"/><rect x="565.4" y="507.5" width="1.4" height="1.5"/><rect x="594.7" y="487.8" width="1.9" height="2.4"/><rect x="539.0" y="520.0" width="2.2" height="1.7"/><rect x="578.3" y="491.9" width="1.4" height="1.5"/><rect x="606.4" y="474.6" width="1.3" height="1.7"/><rect x="593.5" y="477.8" width="1.0" height="0.9"/><rect x="567.8" y="504.0" width="1.9" height="2.4"/><rect x="636.8" y="459.2" width="1.3" height="1.9"/><rect x="634.0" y="462.0" width="1.3" height="2.1"/><rect x="626.3" y="460.8" width="1.0" height="1.5"/><rect x="541.5" y="514.1" width="1.6" height="2.8"/><rect x="613.5" y="478.3" width="2.1" height="3.3"/><rect x="606.8" y="482.6" width="1.9" height="2.3"/><rect x="645.2" y="458.1" width="1.9" height="2.4"/><rect x="624.5" y="467.2" width="1.5" height="1.8"/><rect x="552.1" y="513.1" width="1.9" height="1.6"/><rect x="545.8" y="503.8" width="1.8" height="2.4"/><rect x="552.7" y="515.2" width="1.3" height="2.3"/><rect x="593.6" y="466.9" width="1.2" height="1.4"/><rect x="594.0" y="473.5" width="1.1" height="1.8"/><rect x="594.3" y="490.2" width="1.5" height="1.7"/><rect x="606.3" y="458.2" width="1.5" height="2.3"/><rect x="578.3" y="486.2" width="1.0" height="1.6"/><rect x="555.6" y="506.3" width="1.2" height="1.3"/><rect x="557.2" y="509.5" width="1.7" height="2.2"/><rect x="581.2" y="490.6" width="2.0" height="2.3"/><rect x="604.5" y="478.0" width="2.2" height="2.5"/><rect x="619.2" y="472.5" width="1.2" height="1.9"/><rect x="605.0" y="481.0" width="1.0" height="1.6"/><rect x="578.2" y="488.7" width="1.5" height="2.1"/><rect x="642.1" y="455.0" width="1.5" height="1.6"/><rect x="626.2" y="469.6" width="1.3" height="2.1"/><rect x="539.1" y="513.6" width="1.6" height="2.2"/><rect x="577.8" y="499.2" width="2.1" height="3.3"/><rect x="632.3" y="465.8" width="1.9" height="2.0"/><rect x="559.8" y="504.7" width="1.7" height="1.6"/><rect x="624.3" y="463.6" width="2.1" height="3.6"/><rect x="617.4" y="471.8" width="2.1" height="3.2"/><rect x="565.3" y="490.2" width="1.8" height="2.0"/><rect x="568.8" y="506.2" width="1.6" height="1.7"/><rect x="572.6" y="501.2" width="1.1" height="1.4"/><rect x="570.1" y="502.4" width="1.3" height="1.7"/><rect x="639.8" y="460.5" width="2.0" height="3.3"/><rect x="606.8" y="475.3" width="1.9" height="2.5"/><rect x="605.2" y="460.0" width="1.9" height="2.0"/><rect x="534.6" y="501.7" width="1.4" height="2.2"/><rect x="564.5" y="503.4" width="1.4" height="2.1"/><rect x="645.6" y="451.9" width="1.6" height="1.9"/><rect x="554.0" y="487.4" width="1.0" height="1.8"/><rect x="615.4" y="476.7" width="2.1" height="1.9"/><rect x="604.6" y="482.9" width="2.2" height="2.4"/><rect x="640.1" y="461.3" width="1.8" height="1.5"/><rect x="540.0" y="516.3" width="2.2" height="3.2"/><rect x="631.8" y="452.6" width="1.6" height="1.4"/><rect x="599.9" y="485.1" width="1.6" height="1.8"/><rect x="596.6" y="487.0" width="1.8" height="2.2"/><rect x="595.7" y="488.9" width="1.5" height="2.1"/><rect x="648.4" y="449.0" width="1.1" height="1.2"/><rect x="573.6" y="492.0" width="2.1" height="3.8"/><rect x="638.1" y="438.7" width="2.0" height="3.5"/><rect x="539.7" y="518.2" width="1.7" height="2.5"/><rect x="606.5" y="473.9" width="2.1" height="1.9"/><rect x="543.4" y="521.1" width="2.0" height="3.6"/><rect x="542.9" y="522.2" width="2.0" height="2.9"/><rect x="596.2" y="481.1" width="1.9" height="3.0"/><rect x="540.0" y="523.6" width="1.9" height="3.4"/><rect x="633.7" y="461.0" width="1.3" height="1.5"/><rect x="535.6" y="513.2" width="1.2" height="1.7"/><rect x="598.9" y="483.8" width="1.8" height="2.2"/><rect x="558.0" y="493.0" width="1.1" height="1.1"/><rect x="566.5" y="501.6" width="1.9" height="2.2"/><rect x="563.0" y="500.0" width="1.2" height="1.6"/><rect x="560.5" y="491.8" width="1.1" height="1.2"/><rect x="573.1" y="499.9" width="1.8" height="2.7"/><rect x="627.6" y="462.4" width="1.0" height="1.6"/><rect x="567.3" y="505.0" width="1.4" height="2.6"/><rect x="580.9" y="494.7" width="2.1" height="3.7"/><rect x="584.1" y="495.5" width="1.9" height="3.0"/><rect x="572.3" y="489.4" width="1.4" height="1.5"/><rect x="602.5" y="472.6" width="1.5" height="2.5"/><rect x="538.9" y="518.5" width="1.4" height="1.2"/><rect x="644.6" y="457.7" width="1.2" height="2.0"/><rect x="639.0" y="437.4" width="1.3" height="2.3"/><rect x="551.1" y="505.6" width="2.1" height="2.1"/><rect x="550.9" y="506.8" width="2.0" height="3.1"/><rect x="646.6" y="452.2" width="1.4" height="1.3"/><rect x="559.6" y="485.8" width="1.0" height="1.0"/><rect x="579.9" y="499.0" width="1.3" height="1.3"/><rect x="551.1" y="510.3" width="1.6" height="2.2"/><rect x="624.5" y="464.6" width="2.1" height="1.9"/><rect x="565.5" y="507.7" width="1.3" height="2.0"/><rect x="643.3" y="453.3" width="1.1" height="1.3"/><rect x="604.0" y="481.1" width="1.9" height="3.4"/><rect x="589.1" y="485.0" width="2.0" height="2.5"/><rect x="549.7" y="491.1" width="2.2" height="1.8"/><rect x="625.6" y="466.2" width="1.0" height="0.9"/><rect x="554.4" y="502.8" width="1.2" height="1.0"/><rect x="558.6" y="497.6" width="1.5" height="2.3"/><rect x="592.8" y="489.5" width="0.9" height="1.0"/><rect x="543.7" y="519.2" width="1.7" height="2.0"/><rect x="590.3" y="483.7" width="1.3" height="1.5"/><rect x="638.0" y="455.1" width="1.4" height="1.9"/><rect x="591.4" y="488.5" width="2.1" height="2.2"/><rect x="639.4" y="444.3" width="2.0" height="2.0"/><rect x="572.6" y="502.3" width="1.8" height="1.9"/><rect x="606.5" y="481.3" width="2.1" height="2.3"/><rect x="546.4" y="509.4" width="1.4" height="1.8"/><rect x="586.3" y="471.3" width="1.6" height="1.8"/><rect x="537.5" y="519.4" width="1.2" height="1.7"/><rect x="610.1" y="474.8" width="1.0" height="1.3"/><rect x="591.1" y="482.8" width="2.2" height="2.3"/><rect x="590.7" y="491.9" width="1.9" height="2.0"/><rect x="628.5" y="454.1" width="1.2" height="2.1"/><rect x="595.7" y="484.4" width="1.6" height="2.8"/><rect x="593.7" y="484.7" width="1.3" height="2.1"/><rect x="596.2" y="485.4" width="1.2" height="1.2"/><rect x="629.0" y="453.5" width="2.2" height="3.7"/><rect x="612.0" y="464.4" width="1.8" height="2.9"/><rect x="631.4" y="465.5" width="2.0" height="2.2"/><rect x="557.4" y="489.7" width="0.9" height="1.2"/><rect x="572.9" y="489.0" width="1.7" height="2.9"/><rect x="642.9" y="450.5" width="1.0" height="1.4"/><rect x="638.7" y="459.3" width="1.1" height="1.7"/><rect x="611.2" y="478.7" width="1.8" height="1.6"/><rect x="633.6" y="452.2" width="1.9" height="3.2"/><rect x="593.2" y="464.1" width="1.7" height="2.2"/><rect x="582.5" y="493.7" width="0.9" height="0.9"/><rect x="630.5" y="465.5" width="1.7" height="2.8"/><rect x="616.9" y="469.6" width="1.3" height="1.4"/><rect x="557.3" y="503.7" width="1.8" height="3.1"/><rect x="566.9" y="482.9" width="2.1" height="2.3"/><rect x="645.4" y="449.5" width="2.2" height="3.4"/><rect x="577.1" y="498.1" width="1.6" height="2.0"/><rect x="535.8" y="508.3" width="1.6" height="2.0"/><rect x="624.5" y="469.0" width="1.2" height="1.6"/><rect x="566.2" y="504.2" width="1.0" height="0.8"/><rect x="577.8" y="493.7" width="2.1" height="3.1"/><rect x="585.6" y="491.0" width="1.2" height="1.5"/><rect x="649.8" y="454.7" width="1.5" height="2.2"/><rect x="624.3" y="464.2" width="1.7" height="3.0"/><rect x="642.6" y="457.6" width="1.6" height="2.9"/><rect x="599.9" y="485.0" width="1.9" height="1.6"/><rect x="554.1" y="508.0" width="1.3" height="1.9"/><rect x="622.0" y="469.6" width="1.9" height="2.7"/><rect x="618.7" y="469.5" width="1.5" height="1.3"/><rect x="581.4" y="469.3" width="2.1" height="1.8"/><rect x="547.1" y="517.0" width="1.8" height="2.2"/><rect x="552.5" y="511.3" width="1.6" height="2.5"/><rect x="582.0" y="488.3" width="1.8" height="2.5"/><rect x="540.2" y="512.5" width="1.1" height="0.9"/><rect x="594.6" y="490.2" width="1.0" height="1.2"/><rect x="593.6" y="489.9" width="2.1" height="3.5"/><rect x="592.3" y="483.4" width="1.3" height="2.3"/><rect x="552.5" y="513.1" width="1.2" height="2.0"/><rect x="596.4" y="484.2" width="1.4" height="2.4"/><rect x="563.1" y="495.2" width="1.8" height="2.3"/><rect x="579.8" y="494.1" width="1.5" height="1.7"/><rect x="609.6" y="476.0" width="1.3" height="2.0"/><rect x="589.7" y="487.3" width="2.0" height="2.6"/><rect x="573.6" y="481.9" width="2.2" height="3.4"/><rect x="581.5" y="487.9" width="1.9" height="2.0"/><rect x="610.5" y="452.2" width="1.8" height="2.6"/><rect x="585.6" y="485.9" width="1.2" height="1.9"/><rect x="574.1" y="491.3" width="0.9" height="1.1"/><rect x="626.9" y="467.3" width="1.7" height="1.7"/><rect x="552.3" y="493.7" width="1.0" height="1.4"/><rect x="626.7" y="453.2" width="1.4" height="2.0"/><rect x="615.8" y="463.6" width="1.9" height="2.6"/><rect x="563.9" y="497.9" width="1.6" height="2.2"/><rect x="652.9" y="452.6" width="1.9" height="2.2"/><rect x="610.7" y="451.9" width="1.3" height="1.7"/><rect x="598.0" y="481.8" width="1.1" height="1.6"/><rect x="638.1" y="452.9" width="1.3" height="2.0"/><rect x="587.8" y="493.1" width="1.7" height="2.1"/><rect x="592.4" y="462.7" width="1.4" height="2.1"/><rect x="547.4" y="516.4" width="1.8" height="2.7"/><rect x="633.3" y="461.7" width="1.3" height="1.5"/><rect x="601.8" y="485.6" width="1.4" height="2.0"/><rect x="555.7" y="511.0" width="2.0" height="3.5"/><rect x="568.1" y="505.0" width="1.1" height="0.9"/><rect x="625.6" y="458.3" width="1.2" height="1.6"/><rect x="620.0" y="474.2" width="2.0" height="3.3"/><rect x="559.3" y="500.9" width="1.8" height="2.1"/><rect x="640.0" y="459.7" width="1.5" height="1.7"/><rect x="583.8" y="481.3" width="1.6" height="2.3"/><rect x="652.5" y="451.9" width="1.2" height="1.7"/><rect x="576.9" y="495.8" width="1.5" height="2.4"/><rect x="640.5" y="451.1" width="1.1" height="1.3"/><rect x="620.3" y="472.0" width="2.0" height="3.4"/><rect x="564.3" y="504.9" width="1.2" height="1.8"/><rect x="540.5" y="512.8" width="1.0" height="1.6"/><rect x="598.9" y="479.4" width="1.0" height="0.9"/><rect x="600.6" y="467.9" width="1.0" height="0.9"/><rect x="537.5" y="514.6" width="1.1" height="1.2"/><rect x="611.7" y="468.4" width="1.3" height="1.7"/><rect x="569.9" y="497.9" width="1.4" height="1.6"/><rect x="567.3" y="504.0" width="1.2" height="1.0"/><rect x="572.0" y="495.9" width="1.2" height="1.1"/><rect x="634.7" y="459.4" width="1.6" height="1.7"/><rect x="636.1" y="451.2" width="1.7" height="2.5"/><rect x="616.8" y="470.0" width="1.4" height="1.7"/><rect x="595.4" y="483.8" width="1.6" height="2.1"/><rect x="621.2" y="452.7" width="1.2" height="1.0"/><rect x="574.7" y="502.4" width="1.9" height="2.7"/><rect x="572.1" y="502.3" width="2.0" height="3.3"/><rect x="613.7" y="467.3" width="1.9" height="2.3"/><rect x="582.4" y="490.3" width="2.0" height="3.7"/><rect x="637.8" y="446.4" width="1.0" height="1.0"/><rect x="648.4" y="449.4" width="1.6" height="1.7"/><rect x="636.1" y="457.6" width="2.2" height="1.9"/><rect x="654.2" y="453.0" width="1.1" height="1.3"/><rect x="613.2" y="477.6" width="1.6" height="2.8"/><rect x="584.1" y="483.3" width="1.7" height="2.3"/><rect x="557.5" y="507.6" width="2.1" height="3.1"/><rect x="562.6" y="504.7" width="1.6" height="1.8"/><rect x="602.3" y="476.1" width="0.9" height="0.9"/><rect x="614.6" y="475.6" width="1.0" height="1.6"/><rect x="603.9" y="483.5" width="1.7" height="1.8"/><rect x="628.2" y="457.2" width="1.9" height="1.6"/><rect x="537.3" y="510.9" width="1.1" height="1.1"/><rect x="542.9" y="520.8" width="1.5" height="2.7"/><rect x="575.8" y="499.2" width="2.0" height="1.9"/><rect x="609.1" y="472.3" width="2.1" height="1.8"/><rect x="602.8" y="480.6" width="2.0" height="2.1"/><rect x="621.5" y="471.6" width="1.5" height="2.7"/><rect x="566.4" y="504.8" width="2.1" height="3.1"/><rect x="546.9" y="518.1" width="1.2" height="1.3"/><rect x="632.0" y="455.6" width="2.2" height="3.2"/><rect x="610.3" y="476.0" width="1.8" height="2.4"/><rect x="544.1" y="515.4" width="1.4" height="1.9"/><rect x="545.7" y="520.5" width="2.2" height="2.6"/><rect x="577.4" y="499.5" width="1.7" height="2.9"/><rect x="558.0" y="506.6" width="1.5" height="2.4"/><rect x="603.9" y="481.9" width="1.1" height="1.7"/><rect x="540.6" y="505.1" width="0.9" height="0.9"/><rect x="586.0" y="478.2" width="1.7" height="2.6"/><rect x="622.1" y="461.1" width="1.0" height="1.6"/><rect x="556.4" y="512.4" width="0.9" height="0.8"/><rect x="638.9" y="458.2" width="1.0" height="0.9"/><rect x="633.5" y="457.4" width="2.1" height="1.8"/><rect x="551.7" y="513.8" width="1.1" height="1.0"/><rect x="558.9" y="502.9" width="1.1" height="1.1"/><rect x="599.7" y="482.7" width="1.1" height="1.5"/><rect x="596.5" y="484.5" width="1.5" height="1.3"/><rect x="609.9" y="478.7" width="1.3" height="1.1"/><rect x="638.4" y="454.7" width="1.4" height="1.9"/><rect x="647.5" y="456.0" width="1.4" height="2.1"/><rect x="577.7" y="489.3" width="2.1" height="1.7"/><rect x="571.4" y="501.5" width="1.9" height="3.0"/><rect x="609.4" y="456.7" width="1.1" height="1.4"/><rect x="631.9" y="453.4" width="1.0" height="1.9"/><rect x="616.6" y="457.6" width="1.4" height="1.9"/><rect x="640.5" y="440.2" width="1.7" height="2.8"/><rect x="647.1" y="440.4" width="1.8" height="3.1"/><rect x="554.5" y="510.4" width="1.6" height="1.5"/><rect x="629.6" y="467.9" width="1.7" height="1.9"/><rect x="573.3" y="494.8" width="1.1" height="1.4"/><rect x="568.4" y="502.3" width="1.8" height="1.8"/><rect x="636.8" y="461.9" width="1.6" height="1.9"/><rect x="540.4" y="524.1" width="0.9" height="1.0"/><rect x="613.2" y="478.1" width="1.8" height="1.9"/><rect x="590.0" y="481.1" width="2.0" height="3.5"/><rect x="586.9" y="491.5" width="1.4" height="1.6"/><rect x="622.7" y="466.9" width="1.8" height="1.7"/><rect x="559.4" y="503.2" width="1.1" height="0.9"/><rect x="586.9" y="493.2" width="1.8" height="2.5"/><rect x="546.5" y="519.3" width="0.9" height="1.2"/><rect x="629.9" y="457.4" width="1.6" height="2.7"/><rect x="582.5" y="496.7" width="1.7" height="1.4"/><rect x="566.5" y="507.6" width="1.1" height="1.0"/><rect x="600.7" y="485.2" width="1.7" height="2.7"/><rect x="579.2" y="498.7" width="1.8" height="2.7"/><rect x="638.3" y="455.5" width="1.7" height="2.8"/><rect x="566.8" y="493.6" width="1.7" height="2.2"/><rect x="538.7" y="519.0" width="1.2" height="1.7"/><rect x="595.7" y="482.9" width="1.0" height="0.9"/><rect x="605.0" y="473.0" width="2.2" height="3.5"/><rect x="570.9" y="499.3" width="1.6" height="2.5"/><rect x="574.6" y="478.9" width="1.5" height="1.8"/><rect x="593.4" y="486.9" width="2.2" height="1.9"/><rect x="585.8" y="495.0" width="1.8" height="1.7"/><rect x="555.0" y="509.8" width="1.7" height="2.6"/><rect x="589.8" y="490.0" width="1.4" height="2.3"/><rect x="564.7" y="508.8" width="2.1" height="2.6"/><rect x="554.8" y="513.7" width="2.1" height="3.2"/><rect x="542.8" y="512.0" width="1.2" height="1.5"/><rect x="609.5" y="480.5" width="2.1" height="2.4"/><rect x="550.2" y="503.7" width="1.0" height="0.9"/><rect x="612.4" y="473.2" width="2.1" height="3.3"/><rect x="563.8" y="509.1" width="1.7" height="2.1"/><rect x="564.1" y="485.9" width="1.2" height="1.7"/><rect x="537.6" y="501.6" width="2.1" height="3.0"/><rect x="571.5" y="492.6" width="2.1" height="3.3"/><rect x="541.9" y="516.5" width="1.1" height="1.5"/><rect x="640.7" y="442.7" width="1.2" height="1.7"/><rect x="575.9" y="500.2" width="1.9" height="2.9"/><rect x="576.6" y="496.4" width="1.8" height="2.8"/><rect x="592.9" y="490.2" width="1.0" height="1.0"/><rect x="632.2" y="460.4" width="1.7" height="2.0"/><rect x="581.8" y="496.5" width="2.2" height="3.0"/><rect x="549.8" y="506.8" width="1.7" height="2.4"/><rect x="624.6" y="462.8" width="2.0" height="3.6"/><rect x="582.4" y="488.0" width="1.4" height="1.7"/><rect x="577.8" y="490.9" width="1.4" height="1.6"/><rect x="630.5" y="452.7" width="1.8" height="2.9"/><rect x="580.1" y="489.6" width="1.2" height="1.4"/><rect x="544.9" y="506.2" width="2.1" height="2.3"/><rect x="583.1" y="496.3" width="1.1" height="1.6"/><rect x="642.3" y="459.8" width="1.2" height="1.9"/><rect x="557.1" y="493.8" width="1.4" height="1.7"/><rect x="561.9" y="507.4" width="1.5" height="1.6"/><rect x="623.8" y="471.8" width="1.7" height="2.8"/><rect x="576.8" y="499.4" width="1.1" height="0.9"/><rect x="627.2" y="461.3" width="0.9" height="1.2"/><rect x="607.3" y="478.7" width="0.9" height="1.2"/><rect x="570.5" y="481.2" width="2.0" height="2.8"/><rect x="547.6" y="504.0" width="1.0" height="1.4"/><rect x="551.0" y="516.6" width="1.4" height="1.4"/><rect x="650.4" y="447.4" width="2.1" height="3.6"/><rect x="622.8" y="462.9" width="1.5" height="2.4"/><rect x="616.4" y="475.1" width="1.6" height="1.9"/><rect x="594.1" y="478.9" width="1.8" height="2.5"/><rect x="623.3" y="456.0" width="1.0" height="1.0"/><rect x="544.9" y="519.6" width="2.1" height="2.4"/><rect x="588.0" y="488.5" width="1.6" height="1.8"/><rect x="627.9" y="465.7" width="2.0" height="3.2"/><rect x="537.0" y="518.7" width="1.0" height="1.7"/><rect x="546.9" y="517.1" width="1.9" height="2.6"/><rect x="614.5" y="472.9" width="1.6" height="1.6"/><rect x="592.1" y="489.1" width="1.8" height="1.6"/><rect x="555.1" y="512.8" width="1.6" height="2.2"/><rect x="634.1" y="461.2" width="1.1" height="1.8"/><rect x="651.6" y="453.0" width="1.9" height="3.0"/><rect x="646.8" y="455.5" width="1.1" height="1.0"/><rect x="556.9" y="492.1" width="2.1" height="2.7"/><rect x="553.0" y="512.1" width="1.2" height="1.8"/><rect x="616.5" y="462.6" width="1.5" height="1.8"/><rect x="592.0" y="487.6" width="1.5" height="2.2"/><rect x="620.2" y="470.6" width="1.6" height="1.5"/><rect x="543.3" y="517.6" width="1.4" height="1.1"/><rect x="547.0" y="514.7" width="2.1" height="3.5"/><rect x="542.1" y="519.4" width="1.4" height="1.5"/><rect x="552.1" y="508.3" width="2.0" height="2.4"/><rect x="560.0" y="510.8" width="0.9" height="1.4"/><rect x="561.2" y="499.0" width="1.9" height="1.7"/><rect x="560.3" y="508.1" width="1.9" height="2.9"/><rect x="572.4" y="498.4" width="1.4" height="1.7"/><rect x="630.1" y="465.3" width="2.0" height="3.4"/><rect x="647.1" y="455.8" width="2.2" height="2.2"/><rect x="632.1" y="465.7" width="1.3" height="1.6"/><rect x="631.7" y="456.4" width="1.2" height="2.0"/><rect x="636.5" y="457.4" width="1.0" height="1.0"/><rect x="571.5" y="499.6" width="2.1" height="3.0"/><rect x="634.0" y="465.0" width="1.2" height="1.9"/><rect x="578.2" y="498.1" width="1.0" height="0.8"/><rect x="584.2" y="489.3" width="1.4" height="1.9"/><rect x="573.6" y="503.2" width="1.8" height="2.0"/><rect x="594.6" y="485.8" width="1.3" height="1.1"/><rect x="572.8" y="500.6" width="1.0" height="0.9"/><rect x="595.3" y="489.6" width="2.0" height="2.4"/><rect x="588.0" y="487.4" width="0.9" height="0.8"/><rect x="626.9" y="462.5" width="1.5" height="1.8"/><rect x="623.5" y="465.7" width="1.9" height="3.2"/><rect x="637.3" y="451.5" width="1.8" height="2.2"/><rect x="597.8" y="480.2" width="1.6" height="2.6"/><rect x="638.5" y="462.4" width="1.9" height="2.7"/><rect x="598.7" y="465.3" width="1.0" height="1.2"/><rect x="570.6" y="477.3" width="1.1" height="1.5"/><rect x="550.8" y="504.4" width="1.5" height="2.4"/><rect x="566.2" y="487.7" width="0.9" height="0.9"/><rect x="615.4" y="457.5" width="1.9" height="2.1"/><rect x="544.2" y="510.0" width="1.9" height="1.6"/><rect x="644.3" y="452.2" width="0.9" height="1.2"/><rect x="578.6" y="499.2" width="2.1" height="3.6"/><rect x="552.0" y="511.3" width="1.3" height="1.8"/><rect x="551.1" y="513.6" width="1.4" height="1.8"/><rect x="586.3" y="486.9" width="2.1" height="3.7"/><rect x="636.8" y="447.3" width="1.2" height="1.3"/><rect x="588.6" y="484.3" width="1.7" height="1.9"/><rect x="652.5" y="450.7" width="0.9" height="0.8"/><rect x="558.6" y="500.3" width="2.0" height="1.7"/><rect x="566.3" y="505.3" width="1.9" height="3.3"/><rect x="570.0" y="504.6" width="2.2" height="3.8"/><rect x="619.8" y="468.6" width="1.9" height="2.9"/><rect x="597.4" y="485.6" width="1.6" height="2.3"/><rect x="573.1" y="494.1" width="1.1" height="1.9"/><rect x="563.4" y="507.3" width="2.1" height="3.8"/><rect x="638.6" y="445.6" width="2.0" height="3.2"/><rect x="605.0" y="483.1" width="1.9" height="3.0"/><rect x="636.2" y="463.9" width="1.0" height="1.5"/><rect x="586.6" y="474.1" width="2.2" height="2.7"/><rect x="613.1" y="468.5" width="1.8" height="2.1"/><rect x="613.4" y="477.9" width="2.1" height="3.2"/><rect x="629.7" y="462.6" width="1.2" height="1.5"/><rect x="615.0" y="470.1" width="1.0" height="0.8"/><rect x="584.7" y="493.8" width="1.2" height="1.2"/><rect x="582.9" y="486.4" width="2.1" height="3.1"/><rect x="533.9" y="509.0" width="1.7" height="2.6"/><rect x="608.8" y="477.3" width="1.3" height="1.2"/><rect x="616.2" y="476.3" width="1.8" height="3.1"/><rect x="612.9" y="470.1" width="2.0" height="3.4"/><rect x="593.0" y="491.2" width="1.7" height="2.4"/><rect x="635.3" y="456.0" width="1.4" height="1.1"/><rect x="631.4" y="458.1" width="2.2" height="3.0"/><rect x="631.8" y="453.2" width="2.2" height="2.8"/><rect x="641.1" y="456.6" width="0.9" height="1.0"/><rect x="584.2" y="493.7" width="1.8" height="1.6"/><rect x="573.2" y="498.9" width="1.1" height="1.5"/><rect x="581.8" y="483.0" width="1.3" height="2.4"/><rect x="559.5" y="505.1" width="1.2" height="1.0"/><rect x="565.2" y="487.4" width="1.3" height="1.6"/><rect x="599.1" y="484.6" width="1.6" height="1.4"/><rect x="578.9" y="496.9" width="2.0" height="3.1"/><rect x="616.8" y="467.9" width="2.0" height="3.1"/><rect x="546.0" y="519.3" width="1.9" height="3.1"/><rect x="647.4" y="443.3" width="1.1" height="1.5"/><rect x="607.9" y="473.2" width="1.1" height="1.9"/><rect x="597.5" y="485.5" width="2.2" height="2.6"/><rect x="543.5" y="511.7" width="1.2" height="1.3"/><rect x="571.0" y="496.2" width="1.3" height="1.9"/><rect x="631.4" y="443.4" width="1.2" height="2.0"/><rect x="546.8" y="511.9" width="1.0" height="0.9"/><rect x="648.6" y="455.4" width="1.8" height="2.4"/><rect x="533.6" y="513.5" width="1.0" height="1.7"/><rect x="631.3" y="461.0" width="1.5" height="1.2"/><rect x="620.4" y="473.8" width="1.6" height="2.7"/><rect x="617.6" y="474.8" width="1.8" height="2.8"/><rect x="571.7" y="490.7" width="1.7" height="2.0"/><rect x="599.2" y="484.4" width="1.3" height="2.2"/><rect x="574.0" y="489.2" width="1.4" height="1.4"/><rect x="607.6" y="481.6" width="1.1" height="0.9"/><rect x="606.4" y="473.8" width="2.1" height="2.3"/><rect x="566.0" y="505.8" width="1.1" height="0.9"/><rect x="594.6" y="485.2" width="1.4" height="2.4"/><rect x="568.7" y="489.9" width="1.6" height="1.4"/><rect x="539.6" y="515.7" width="2.0" height="1.7"/><rect x="619.7" y="472.2" width="1.8" height="2.9"/><rect x="622.5" y="470.3" width="1.1" height="1.9"/><rect x="634.3" y="441.3" width="1.6" height="1.4"/><rect x="572.2" y="481.5" width="1.0" height="1.1"/><rect x="536.0" y="506.8" width="1.4" height="1.2"/><rect x="580.2" y="497.2" width="1.5" height="2.1"/><rect x="615.4" y="476.4" width="1.6" height="1.4"/><rect x="583.8" y="481.5" width="1.2" height="2.0"/><rect x="566.1" y="503.3" width="1.9" height="1.6"/><rect x="600.5" y="479.3" width="1.8" height="3.2"/><rect x="618.9" y="472.8" width="1.2" height="1.5"/><rect x="569.1" y="498.6" width="1.0" height="1.5"/><rect x="587.9" y="494.0" width="1.1" height="1.8"/><rect x="628.6" y="449.1" width="1.4" height="2.5"/><rect x="554.2" y="503.3" width="2.1" height="2.1"/><rect x="540.2" y="523.0" width="1.0" height="1.6"/><rect x="607.1" y="476.4" width="1.0" height="1.5"/><rect x="555.3" y="513.4" width="1.7" height="2.4"/><rect x="624.7" y="455.1" width="1.1" height="1.2"/><rect x="553.9" y="509.3" width="0.9" height="1.6"/><rect x="611.4" y="464.3" width="1.5" height="2.6"/><rect x="628.5" y="452.5" width="1.9" height="2.0"/><rect x="579.7" y="499.1" width="1.9" height="2.4"/><rect x="652.0" y="451.3" width="1.5" height="2.4"/><rect x="645.4" y="445.3" width="2.0" height="3.5"/><rect x="567.3" y="498.3" width="1.0" height="1.5"/><rect x="646.6" y="451.3" width="1.1" height="1.5"/><rect x="545.1" y="515.3" width="1.0" height="1.2"/><rect x="628.4" y="456.6" width="2.0" height="2.5"/><rect x="590.6" y="492.2" width="1.9" height="2.6"/><rect x="586.4" y="493.9" width="1.5" height="1.3"/><rect x="553.7" y="515.0" width="1.5" height="1.4"/><rect x="631.2" y="458.6" width="2.0" height="2.7"/><rect x="557.2" y="510.6" width="2.0" height="2.8"/><rect x="610.1" y="471.2" width="1.0" height="1.0"/><rect x="581.8" y="480.8" width="2.1" height="3.0"/><rect x="569.8" y="505.3" width="1.6" height="2.0"/><rect x="646.1" y="456.0" width="1.2" height="1.0"/><rect x="536.4" y="511.0" width="2.0" height="1.9"/><rect x="538.3" y="517.3" width="1.2" height="1.7"/><rect x="639.0" y="449.7" width="1.3" height="1.8"/><rect x="567.4" y="493.8" width="1.2" height="2.1"/><rect x="608.6" y="460.6" width="1.3" height="2.4"/><rect x="605.8" y="480.5" width="1.7" height="1.9"/><rect x="553.1" y="515.8" width="1.7" height="1.8"/><rect x="545.3" y="506.9" width="1.1" height="1.7"/><rect x="569.6" y="501.6" width="2.1" height="3.4"/><rect x="597.8" y="462.5" width="1.7" height="2.4"/><rect x="575.4" y="497.8" width="1.6" height="1.7"/><rect x="605.4" y="464.8" width="1.8" height="1.9"/><rect x="541.5" y="519.1" width="1.5" height="2.4"/><rect x="599.9" y="480.1" width="1.7" height="2.3"/><rect x="614.6" y="470.2" width="1.6" height="1.7"/><rect x="551.9" y="511.4" width="2.1" height="3.6"/><rect x="570.2" y="497.4" width="1.6" height="2.0"/><rect x="554.0" y="500.9" width="1.0" height="1.0"/><rect x="571.3" y="502.7" width="1.2" height="1.0"/><rect x="599.5" y="485.4" width="1.7" height="2.4"/><rect x="609.1" y="475.1" width="1.7" height="1.9"/><rect x="588.5" y="483.1" width="1.2" height="1.8"/><rect x="607.6" y="474.7" width="1.9" height="2.1"/><rect x="580.6" y="493.7" width="1.9" height="2.8"/><rect x="548.3" y="490.2" width="2.2" height="2.8"/><rect x="650.4" y="446.4" width="1.4" height="1.2"/><rect x="538.4" y="516.9" width="1.8" height="2.6"/><rect x="627.7" y="464.3" width="1.9" height="2.6"/><rect x="609.6" y="473.4" width="1.8" height="2.4"/><rect x="545.8" y="510.1" width="1.8" height="2.2"/><rect x="648.8" y="450.4" width="1.1" height="1.5"/><rect x="580.6" y="497.3" width="2.1" height="2.0"/><rect x="621.2" y="472.0" width="1.6" height="2.8"/><rect x="542.0" y="504.6" width="0.9" height="1.6"/><rect x="642.0" y="455.2" width="1.7" height="2.2"/><rect x="557.2" y="509.5" width="1.5" height="2.5"/><rect x="550.0" y="510.8" width="1.5" height="2.0"/><rect x="627.3" y="461.3" width="1.3" height="2.3"/><rect x="607.6" y="479.2" width="1.6" height="2.7"/><rect x="541.1" y="513.8" width="1.5" height="1.7"/><rect x="557.4" y="511.0" width="1.5" height="1.8"/><rect x="607.9" y="479.0" width="1.7" height="2.2"/><rect x="624.6" y="456.2" width="1.2" height="2.1"/><rect x="601.2" y="482.3" width="1.2" height="1.9"/><rect x="585.4" y="485.2" width="1.2" height="2.0"/><rect x="561.8" y="491.5" width="1.5" height="1.8"/><rect x="603.4" y="477.9" width="1.6" height="2.2"/><rect x="643.5" y="447.0" width="1.0" height="1.8"/><rect x="541.8" y="522.7" width="2.0" height="2.1"/><rect x="542.8" y="520.8" width="1.5" height="2.5"/><rect x="541.7" y="521.5" width="0.9" height="0.8"/><rect x="573.5" y="497.1" width="2.2" height="3.1"/><rect x="634.5" y="457.0" width="2.1" height="3.1"/><rect x="565.8" y="503.9" width="1.5" height="1.4"/><rect x="643.5" y="453.6" width="1.2" height="1.5"/><rect x="631.3" y="464.4" width="1.7" height="1.5"/><rect x="567.1" y="505.5" width="1.6" height="2.3"/><rect x="561.3" y="500.0" width="1.7" height="2.6"/><rect x="652.8" y="450.2" width="2.2" height="2.8"/><rect x="597.9" y="486.4" width="1.0" height="1.5"/><rect x="551.9" y="516.6" width="1.0" height="1.4"/><rect x="561.4" y="508.1" width="1.9" height="2.4"/><rect x="552.3" y="506.0" width="2.2" height="3.1"/><rect x="588.0" y="487.1" width="1.8" height="3.0"/><rect x="629.2" y="466.0" width="1.9" height="1.7"/><rect x="551.9" y="510.2" width="1.1" height="1.6"/><rect x="560.5" y="484.5" width="1.5" height="2.4"/><rect x="646.1" y="452.5" width="1.9" height="2.5"/><rect x="585.5" y="494.7" width="1.8" height="3.0"/><rect x="617.6" y="472.4" width="1.6" height="1.8"/><rect x="578.8" y="486.2" width="0.9" height="1.2"/><rect x="598.3" y="486.5" width="1.9" height="2.0"/><rect x="585.3" y="493.4" width="1.7" height="2.1"/><rect x="616.4" y="471.5" width="1.9" height="2.6"/><rect x="549.4" y="512.1" width="1.2" height="1.3"/><rect x="646.3" y="451.9" width="1.9" height="1.8"/><rect x="612.0" y="478.3" width="1.2" height="1.1"/><rect x="532.9" y="506.3" width="2.2" height="2.5"/><rect x="536.0" y="514.3" width="1.8" height="1.5"/><rect x="628.0" y="468.9" width="1.2" height="1.9"/><rect x="627.2" y="467.5" width="1.6" height="2.5"/><rect x="606.3" y="476.0" width="1.1" height="1.0"/><rect x="558.6" y="505.7" width="1.7" height="2.1"/><rect x="609.7" y="473.1" width="1.7" height="2.1"/><rect x="633.7" y="458.8" width="2.0" height="3.7"/><rect x="628.9" y="455.0" width="1.8" height="2.4"/><rect x="568.2" y="505.7" width="1.8" height="1.8"/><rect x="607.1" y="475.0" width="1.7" height="2.1"/><rect x="566.2" y="504.6" width="1.8" height="3.0"/><rect x="575.2" y="498.8" width="1.5" height="1.8"/><rect x="606.8" y="469.4" width="1.9" height="3.1"/><rect x="589.2" y="488.1" width="1.7" height="1.9"/><rect x="633.1" y="461.2" width="1.6" height="2.1"/><rect x="582.0" y="498.0" width="1.3" height="1.6"/><rect x="648.8" y="455.1" width="2.1" height="3.7"/><rect x="629.7" y="465.4" width="0.9" height="1.6"/><rect x="546.6" y="516.9" width="2.1" height="3.1"/><rect x="627.1" y="453.1" width="1.1" height="1.5"/><rect x="549.0" y="514.2" width="1.5" height="2.5"/><rect x="568.7" y="496.1" width="1.1" height="1.1"/><rect x="543.2" y="514.1" width="1.7" height="2.5"/><rect x="576.5" y="475.5" width="1.8" height="2.5"/><rect x="639.7" y="460.3" width="1.3" height="1.7"/><rect x="595.7" y="460.3" width="1.8" height="1.5"/><rect x="645.9" y="452.4" width="1.2" height="1.8"/><rect x="604.1" y="466.2" width="1.6" height="1.7"/><rect x="591.6" y="486.3" width="1.4" height="1.9"/><rect x="556.1" y="511.5" width="1.1" height="0.9"/><rect x="594.8" y="477.6" width="1.4" height="2.4"/><rect x="605.5" y="473.4" width="1.3" height="2.2"/><rect x="572.2" y="486.7" width="1.2" height="2.1"/><rect x="617.8" y="474.0" width="1.9" height="1.8"/><rect x="582.4" y="493.4" width="1.3" height="1.6"/><rect x="556.5" y="509.2" width="1.0" height="1.6"/><rect x="575.5" y="490.5" width="1.5" height="2.6"/><rect x="636.0" y="453.0" width="2.0" height="3.4"/><rect x="644.8" y="454.0" width="1.7" height="1.5"/><rect x="580.4" y="495.4" width="1.7" height="1.4"/><rect x="626.5" y="469.7" width="1.4" height="1.9"/><rect x="632.6" y="457.2" width="1.1" height="1.6"/><rect x="563.1" y="500.9" width="1.4" height="2.5"/><rect x="590.4" y="489.9" width="1.3" height="2.3"/><rect x="579.1" y="497.4" width="1.6" height="2.3"/><rect x="647.9" y="456.3" width="1.3" height="2.0"/><rect x="592.1" y="480.8" width="1.8" height="1.6"/><rect x="545.2" y="519.3" width="1.3" height="1.3"/><rect x="572.7" y="502.8" width="0.9" height="1.2"/><rect x="626.5" y="468.8" width="1.0" height="1.6"/><rect x="548.7" y="517.5" width="1.5" height="1.7"/><rect x="627.3" y="463.3" width="1.6" height="1.9"/><rect x="536.0" y="510.6" width="1.4" height="2.3"/><rect x="550.0" y="512.8" width="1.6" height="1.5"/><rect x="537.0" y="500.4" width="2.1" height="3.8"/><rect x="597.1" y="476.3" width="1.7" height="2.1"/><rect x="555.6" y="504.9" width="1.5" height="2.2"/><rect x="543.6" y="518.8" width="1.0" height="1.6"/><rect x="593.8" y="487.6" width="1.9" height="2.5"/><rect x="571.5" y="500.0" width="0.9" height="0.8"/><rect x="637.7" y="456.0" width="2.1" height="2.8"/><rect x="618.0" y="474.7" width="1.5" height="2.1"/><rect x="582.7" y="487.8" width="1.3" height="2.0"/><rect x="561.2" y="504.7" width="1.5" height="1.9"/><rect x="545.4" y="518.4" width="1.8" height="1.8"/><rect x="604.5" y="471.6" width="1.9" height="3.4"/><rect x="582.6" y="493.0" width="1.9" height="1.6"/><rect x="592.7" y="488.5" width="1.6" height="2.5"/><rect x="636.1" y="457.8" width="1.8" height="1.6"/><rect x="604.6" y="459.1" width="1.7" height="2.2"/><rect x="596.6" y="484.0" width="1.1" height="1.1"/><rect x="628.4" y="462.4" width="1.0" height="1.3"/><rect x="631.1" y="457.6" width="1.1" height="2.0"/><rect x="558.1" y="506.4" width="1.5" height="1.4"/><rect x="570.0" y="503.7" width="1.1" height="0.9"/><rect x="609.6" y="470.6" width="1.2" height="2.1"/><rect x="586.2" y="489.8" width="2.1" height="3.1"/><rect x="587.8" y="481.6" width="1.9" height="2.1"/><rect x="542.6" y="510.3" width="1.9" height="2.6"/><rect x="547.8" y="506.6" width="1.1" height="1.8"/><rect x="607.3" y="472.9" width="1.0" height="1.2"/><rect x="623.9" y="470.9" width="1.0" height="1.2"/><rect x="633.9" y="456.5" width="1.2" height="1.1"/><rect x="628.4" y="451.8" width="1.8" height="1.8"/><rect x="626.4" y="470.4" width="1.1" height="1.3"/><rect x="649.9" y="455.5" width="1.1" height="1.7"/><rect x="626.4" y="467.5" width="1.0" height="1.7"/><rect x="641.4" y="438.6" width="1.6" height="1.4"/><rect x="620.7" y="464.2" width="2.0" height="3.1"/><rect x="590.7" y="487.1" width="1.7" height="2.7"/><rect x="595.5" y="463.1" width="1.3" height="2.1"/><rect x="639.3" y="458.5" width="0.9" height="1.3"/><rect x="598.8" y="475.6" width="1.9" height="1.8"/><rect x="614.3" y="472.6" width="1.2" height="1.3"/><rect x="576.2" y="489.3" width="1.6" height="1.8"/><rect x="539.9" y="509.8" width="1.9" height="3.1"/><rect x="630.2" y="467.5" width="1.3" height="1.6"/><rect x="566.9" y="491.2" width="1.2" height="0.9"/><rect x="591.8" y="491.5" width="0.9" height="1.3"/><rect x="606.3" y="475.7" width="1.0" height="1.3"/><rect x="598.7" y="484.3" width="1.2" height="1.1"/><rect x="593.8" y="486.5" width="1.7" height="2.4"/><rect x="567.9" y="498.1" width="1.2" height="1.9"/><rect x="559.8" y="503.5" width="1.9" height="3.0"/><rect x="590.7" y="469.8" width="2.2" height="3.5"/><rect x="580.1" y="496.4" width="1.7" height="1.6"/><rect x="560.1" y="510.8" width="1.7" height="2.1"/><rect x="639.0" y="447.2" width="1.6" height="1.8"/><rect x="576.8" y="500.9" width="1.0" height="1.7"/><rect x="574.4" y="502.8" width="2.2" height="2.6"/><rect x="626.6" y="464.7" width="2.2" height="1.9"/><rect x="590.1" y="483.3" width="0.9" height="1.6"/><rect x="574.2" y="492.3" width="1.0" height="0.9"/><rect x="543.5" y="507.5" width="2.1" height="3.6"/><rect x="600.8" y="485.6" width="1.9" height="2.5"/><rect x="625.8" y="461.4" width="1.6" height="1.6"/><rect x="556.3" y="513.4" width="1.5" height="1.6"/><rect x="649.6" y="455.6" width="1.9" height="1.7"/><rect x="541.1" y="499.5" width="1.2" height="1.7"/><rect x="605.2" y="478.9" width="1.4" height="1.3"/><rect x="618.1" y="471.3" width="1.7" height="2.7"/><rect x="546.6" y="515.0" width="1.4" height="2.4"/><rect x="610.6" y="478.3" width="1.5" height="1.2"/><rect x="599.0" y="486.9" width="1.1" height="1.4"/><rect x="601.0" y="484.1" width="1.7" height="1.8"/><rect x="620.7" y="473.5" width="2.0" height="2.5"/><rect x="558.6" y="509.5" width="1.7" height="1.5"/><rect x="643.9" y="457.2" width="1.4" height="1.3"/><rect x="560.9" y="509.5" width="1.6" height="2.3"/><rect x="555.6" y="512.3" width="1.7" height="1.8"/><rect x="538.3" y="514.2" width="2.0" height="3.3"/><rect x="637.4" y="461.4" width="1.3" height="1.8"/><rect x="606.7" y="473.5" width="1.6" height="1.7"/><rect x="567.2" y="506.5" width="1.0" height="1.3"/><rect x="541.2" y="503.9" width="2.1" height="2.0"/><rect x="646.9" y="448.5" width="0.9" height="1.1"/><rect x="580.1" y="495.8" width="1.0" height="1.0"/><rect x="539.7" y="518.9" width="1.5" height="1.6"/><rect x="637.0" y="443.4" width="1.5" height="2.5"/><rect x="574.8" y="489.5" width="1.9" height="2.2"/><rect x="623.4" y="468.3" width="1.1" height="1.4"/><rect x="547.8" y="507.5" width="1.2" height="1.6"/><rect x="629.2" y="460.2" width="2.1" height="3.2"/><rect x="613.9" y="465.5" width="1.8" height="3.1"/><rect x="603.9" y="474.3" width="1.6" height="2.2"/><rect x="646.8" y="454.4" width="1.1" height="1.5"/><rect x="570.6" y="493.4" width="1.7" height="1.4"/><rect x="560.1" y="502.7" width="1.4" height="2.1"/><rect x="593.6" y="489.8" width="1.8" height="3.2"/><rect x="546.7" y="511.1" width="1.7" height="2.4"/><rect x="595.2" y="483.2" width="2.2" height="3.7"/><rect x="582.9" y="481.8" width="1.8" height="2.8"/><rect x="654.5" y="452.3" width="1.2" height="1.2"/><rect x="623.1" y="448.2" width="1.2" height="1.5"/><rect x="636.9" y="451.9" width="1.7" height="2.8"/><rect x="645.9" y="457.4" width="2.2" height="2.4"/><rect x="604.8" y="470.8" width="1.3" height="1.4"/><rect x="637.4" y="448.8" width="2.2" height="1.9"/><rect x="606.4" y="470.3" width="2.1" height="3.3"/><rect x="572.0" y="503.4" width="1.1" height="1.2"/><rect x="604.1" y="480.7" width="1.1" height="1.0"/><rect x="611.7" y="463.8" width="1.1" height="1.4"/><rect x="650.9" y="451.0" width="1.6" height="2.6"/><rect x="534.1" y="508.6" width="1.9" height="2.9"/><rect x="576.7" y="495.1" width="2.1" height="1.8"/><rect x="545.3" y="511.4" width="2.1" height="2.0"/><rect x="559.2" y="506.5" width="1.9" height="2.6"/><rect x="615.8" y="476.6" width="1.2" height="1.6"/><rect x="623.0" y="471.7" width="1.0" height="1.1"/><rect x="586.1" y="491.8" width="1.1" height="1.0"/><rect x="601.1" y="457.3" width="1.7" height="3.0"/><rect x="550.7" y="508.6" width="1.4" height="2.3"/><rect x="604.9" y="474.9" width="2.1" height="3.7"/><rect x="553.5" y="510.5" width="1.0" height="1.4"/><rect x="560.8" y="500.0" width="1.4" height="1.1"/><rect x="641.6" y="459.7" width="1.2" height="1.6"/><rect x="540.4" y="510.1" width="1.8" height="1.7"/><rect x="610.9" y="478.8" width="1.6" height="1.4"/><rect x="570.0" y="500.0" width="1.6" height="2.3"/><rect x="644.9" y="455.1" width="1.4" height="1.4"/><rect x="623.0" y="468.3" width="1.2" height="1.2"/><rect x="580.7" y="481.9" width="1.5" height="2.4"/><rect x="590.6" y="484.6" width="1.2" height="1.5"/><rect x="623.0" y="471.7" width="1.5" height="1.6"/><rect x="571.9" y="500.6" width="1.2" height="1.6"/><rect x="543.7" y="519.4" width="1.2" height="1.2"/><rect x="631.1" y="456.7" width="2.1" height="1.9"/><rect x="560.2" y="508.2" width="1.6" height="2.6"/><rect x="627.6" y="451.2" width="0.9" height="0.8"/><rect x="576.5" y="496.3" width="0.9" height="1.0"/><rect x="546.0" y="501.1" width="1.2" height="1.3"/><rect x="552.2" y="498.9" width="1.0" height="1.3"/><rect x="564.3" y="506.5" width="2.2" height="3.3"/><rect x="622.9" y="468.5" width="2.2" height="3.8"/><rect x="612.1" y="477.0" width="1.0" height="1.3"/><rect x="587.5" y="476.0" width="2.2" height="3.6"/><rect x="610.4" y="480.1" width="1.2" height="2.1"/><rect x="625.8" y="458.1" width="1.8" height="1.4"/><rect x="646.3" y="454.8" width="1.9" height="2.5"/><rect x="593.1" y="484.2" width="2.1" height="3.4"/><rect x="577.3" y="483.0" width="1.1" height="1.3"/><rect x="576.9" y="500.9" width="1.4" height="1.1"/><rect x="644.1" y="443.4" width="1.5" height="1.3"/><rect x="564.1" y="495.4" width="1.3" height="1.1"/><rect x="585.6" y="487.8" width="1.1" height="1.3"/><rect x="598.3" y="475.1" width="1.4" height="2.6"/><rect x="563.6" y="496.5" width="1.0" height="1.7"/><rect x="602.0" y="483.9" width="2.0" height="3.3"/><rect x="546.0" y="500.4" width="2.1" height="2.5"/><rect x="625.5" y="459.0" width="1.6" height="1.9"/><rect x="568.9" y="490.4" width="1.9" height="3.3"/><rect x="544.4" y="513.6" width="1.8" height="1.8"/><rect x="533.0" y="507.6" width="1.9" height="2.9"/><rect x="576.0" y="496.5" width="2.0" height="1.7"/><rect x="617.9" y="464.2" width="1.5" height="2.6"/><rect x="603.5" y="464.5" width="1.2" height="1.4"/><rect x="570.8" y="498.6" width="1.9" height="3.4"/><rect x="636.5" y="446.1" width="2.2" height="3.3"/><rect x="624.5" y="470.8" width="1.4" height="1.8"/><rect x="542.4" y="501.0" width="1.4" height="1.4"/><rect x="546.3" y="513.1" width="1.3" height="2.3"/><rect x="610.7" y="475.0" width="1.1" height="0.9"/><rect x="615.2" y="468.6" width="1.5" height="2.0"/><rect x="577.2" y="478.8" width="1.0" height="1.0"/><rect x="629.8" y="464.8" width="1.3" height="1.6"/><rect x="568.1" y="493.4" width="1.0" height="1.4"/><rect x="620.5" y="470.2" width="1.8" height="2.1"/><rect x="611.3" y="478.9" width="1.3" height="1.8"/><rect x="607.8" y="476.2" width="0.9" height="1.3"/><rect x="638.2" y="460.1" width="1.2" height="1.7"/><rect x="566.4" y="506.8" width="1.0" height="1.4"/><rect x="635.1" y="451.1" width="1.7" height="2.8"/><rect x="636.3" y="461.4" width="1.4" height="2.5"/><rect x="644.0" y="449.8" width="1.7" height="2.0"/><rect x="548.9" y="515.0" width="1.2" height="1.7"/><rect x="611.2" y="470.6" width="2.1" height="1.7"/><rect x="563.4" y="508.7" width="1.4" height="2.4"/><rect x="587.0" y="479.9" width="1.1" height="1.3"/><rect x="630.5" y="464.7" width="1.8" height="2.6"/><rect x="615.4" y="477.1" width="1.4" height="2.4"/><rect x="581.9" y="495.1" width="2.2" height="3.1"/><rect x="617.3" y="469.9" width="1.7" height="2.0"/><rect x="570.3" y="502.2" width="1.2" height="1.8"/><rect x="549.8" y="517.0" width="1.6" height="2.8"/><rect x="625.2" y="460.8" width="1.9" height="1.9"/><rect x="598.8" y="487.5" width="1.6" height="1.3"/><rect x="553.0" y="515.0" width="1.3" height="1.7"/><rect x="565.0" y="508.0" width="1.1" height="1.9"/><rect x="642.8" y="437.2" width="1.1" height="1.1"/><rect x="641.1" y="461.2" width="1.1" height="1.6"/><rect x="639.8" y="437.7" width="2.0" height="2.2"/><rect x="612.6" y="453.1" width="2.1" height="3.7"/><rect x="621.1" y="459.2" width="1.8" height="2.2"/><rect x="594.6" y="465.3" width="1.6" height="1.4"/><rect x="582.8" y="478.3" width="1.8" height="2.3"/><rect x="641.4" y="447.8" width="1.2" height="1.8"/><rect x="640.1" y="461.9" width="2.1" height="2.6"/><rect x="637.6" y="463.4" width="1.3" height="1.5"/><rect x="560.6" y="501.4" width="1.9" height="2.8"/><rect x="644.2" y="458.3" width="1.3" height="1.5"/><rect x="625.5" y="458.4" width="2.2" height="3.7"/><rect x="595.3" y="477.2" width="2.0" height="2.6"/><rect x="610.0" y="462.6" width="2.0" height="1.9"/><rect x="538.4" y="513.7" width="2.0" height="1.9"/><rect x="631.8" y="453.8" width="1.1" height="1.1"/><rect x="611.6" y="470.5" width="1.1" height="1.9"/><rect x="557.3" y="496.7" width="2.1" height="2.0"/><rect x="617.3" y="468.6" width="2.1" height="2.6"/><rect x="586.4" y="492.9" width="2.0" height="2.2"/><rect x="644.7" y="458.7" width="2.1" height="1.7"/><rect x="610.4" y="452.2" width="1.3" height="1.8"/><rect x="587.5" y="494.1" width="2.0" height="2.6"/><rect x="632.1" y="466.6" width="1.1" height="1.1"/><rect x="633.9" y="465.6" width="0.9" height="1.1"/><rect x="576.6" y="483.9" width="2.0" height="2.1"/><rect x="623.5" y="468.1" width="1.9" height="2.8"/><rect x="545.6" y="514.9" width="1.5" height="1.8"/><rect x="599.0" y="476.5" width="1.4" height="1.9"/><rect x="630.3" y="457.3" width="1.2" height="1.1"/><rect x="558.4" y="484.4" width="1.4" height="2.4"/><rect x="645.8" y="447.1" width="1.4" height="2.1"/><rect x="584.8" y="467.7" width="1.6" height="2.2"/><rect x="614.6" y="468.5" width="1.1" height="1.5"/><rect x="584.5" y="485.8" width="1.9" height="1.9"/><rect x="581.4" y="495.7" width="2.1" height="2.8"/><rect x="621.7" y="455.0" width="1.6" height="1.4"/><rect x="582.6" y="497.0" width="1.4" height="1.8"/><rect x="600.6" y="484.8" width="1.1" height="1.7"/><rect x="597.2" y="483.7" width="1.5" height="1.9"/><rect x="614.2" y="469.6" width="1.0" height="1.2"/><rect x="565.2" y="500.4" width="1.5" height="2.3"/><rect x="645.1" y="446.0" width="1.7" height="2.2"/><rect x="547.6" y="507.2" width="1.2" height="1.4"/><rect x="606.0" y="480.3" width="2.0" height="2.7"/><rect x="651.8" y="454.4" width="1.5" height="1.7"/><rect x="601.8" y="476.0" width="1.7" height="2.9"/><rect x="588.9" y="489.5" width="1.9" height="2.5"/><rect x="560.2" y="487.8" width="1.2" height="1.0"/><rect x="591.6" y="469.4" width="2.0" height="3.3"/><rect x="607.3" y="475.7" width="1.3" height="1.2"/><rect x="583.4" y="480.4" width="1.6" height="2.9"/><rect x="628.7" y="461.7" width="1.7" height="2.0"/><rect x="636.7" y="447.2" width="1.1" height="1.9"/><rect x="616.1" y="472.7" width="1.9" height="2.3"/><rect x="616.9" y="469.8" width="1.7" height="3.0"/><rect x="639.7" y="456.0" width="1.4" height="2.1"/><rect x="616.4" y="475.8" width="1.6" height="1.7"/><rect x="613.9" y="476.6" width="1.3" height="1.4"/><rect x="568.9" y="498.5" width="2.0" height="2.9"/><rect x="608.3" y="468.2" width="1.4" height="1.7"/><rect x="614.0" y="476.0" width="1.9" height="3.2"/><rect x="641.1" y="460.7" width="2.1" height="2.1"/><rect x="551.1" y="508.4" width="1.4" height="1.3"/><rect x="606.7" y="475.5" width="1.6" height="2.1"/><rect x="604.6" y="469.9" width="1.8" height="2.8"/><rect x="632.5" y="460.7" width="1.7" height="1.6"/><rect x="547.0" y="514.3" width="1.8" height="1.8"/><rect x="648.9" y="453.2" width="1.5" height="2.0"/><rect x="651.0" y="453.6" width="1.2" height="1.8"/><rect x="580.0" y="495.4" width="1.1" height="1.8"/><rect x="587.3" y="486.7" width="1.2" height="2.1"/><rect x="547.3" y="508.5" width="1.0" height="1.3"/><rect x="564.6" y="480.6" width="1.5" height="2.4"/><rect x="542.5" y="520.3" width="2.2" height="2.6"/><rect x="543.4" y="519.4" width="1.4" height="1.8"/><rect x="582.5" y="494.4" width="1.5" height="1.9"/><rect x="558.1" y="506.2" width="1.6" height="2.3"/><rect x="622.6" y="467.2" width="1.2" height="2.1"/><rect x="552.2" y="513.3" width="1.4" height="1.7"/><rect x="556.0" y="495.8" width="1.3" height="1.7"/><rect x="609.6" y="479.6" width="1.5" height="1.4"/><rect x="596.9" y="476.5" width="2.0" height="3.5"/><rect x="550.6" y="511.9" width="1.8" height="2.1"/><rect x="645.7" y="452.0" width="2.0" height="1.8"/><rect x="579.7" y="488.3" width="2.0" height="2.6"/><rect x="632.7" y="453.1" width="1.4" height="2.2"/><rect x="599.0" y="486.4" width="2.1" height="3.4"/><rect x="641.5" y="458.5" width="1.9" height="1.6"/><rect x="596.1" y="486.0" width="1.6" height="1.8"/><rect x="600.9" y="481.0" width="1.9" height="2.8"/><rect x="571.2" y="502.8" width="1.2" height="1.4"/><rect x="586.0" y="489.0" width="1.9" height="3.4"/><rect x="568.7" y="503.1" width="1.6" height="1.3"/><rect x="613.0" y="478.5" width="1.7" height="2.3"/><rect x="576.0" y="501.7" width="1.0" height="1.1"/><rect x="619.2" y="462.3" width="1.4" height="2.3"/><rect x="557.8" y="510.8" width="1.6" height="2.2"/><rect x="629.4" y="465.1" width="2.1" height="3.0"/><rect x="615.7" y="469.1" width="1.2" height="1.6"/><rect x="648.4" y="456.6" width="1.3" height="1.5"/><rect x="563.2" y="496.0" width="1.7" height="1.6"/><rect x="612.1" y="459.6" width="1.0" height="0.8"/><rect x="600.2" y="466.8" width="1.6" height="2.1"/><rect x="583.3" y="489.4" width="2.1" height="2.9"/><rect x="623.2" y="466.6" width="2.0" height="3.2"/><rect x="597.1" y="485.3" width="1.3" height="2.3"/><rect x="613.4" y="477.9" width="1.6" height="1.9"/><rect x="607.6" y="479.1" width="2.1" height="2.7"/><rect x="634.1" y="462.9" width="2.1" height="2.8"/><rect x="600.4" y="481.3" width="2.1" height="2.9"/><rect x="599.7" y="482.9" width="1.5" height="1.6"/><rect x="590.0" y="490.3" width="1.0" height="1.2"/><rect x="538.7" y="514.9" width="1.0" height="1.7"/><rect x="575.3" y="499.4" width="1.6" height="1.8"/><rect x="621.8" y="469.9" width="2.1" height="1.8"/><rect x="537.5" y="505.7" width="1.8" height="1.9"/><rect x="612.1" y="475.2" width="1.6" height="1.7"/><rect x="597.7" y="478.5" width="2.0" height="2.1"/><rect x="602.1" y="477.7" width="2.0" height="2.6"/><rect x="628.4" y="444.9" width="1.4" height="1.7"/><rect x="647.8" y="449.0" width="1.6" height="2.5"/><rect x="606.5" y="476.0" width="1.8" height="1.9"/><rect x="583.6" y="497.1" width="1.8" height="3.0"/><rect x="626.5" y="469.3" width="1.3" height="2.3"/><rect x="543.5" y="502.3" width="1.9" height="1.8"/><rect x="558.6" y="500.3" width="1.7" height="1.5"/><rect x="600.2" y="484.9" width="2.0" height="2.7"/><rect x="539.6" y="519.8" width="0.9" height="1.6"/><rect x="636.7" y="452.2" width="0.9" height="1.6"/><rect x="566.0" y="498.2" width="1.9" height="2.6"/><rect x="552.3" y="514.0" width="1.9" height="1.7"/><rect x="571.9" y="479.1" width="1.4" height="1.4"/><rect x="613.0" y="474.8" width="1.9" height="2.2"/><rect x="627.9" y="453.1" width="1.1" height="1.5"/><rect x="590.8" y="491.4" width="2.1" height="2.4"/><rect x="610.2" y="480.0" width="2.1" height="3.8"/><rect x="618.2" y="474.3" width="1.8" height="2.2"/><rect x="593.5" y="488.6" width="1.1" height="1.8"/><rect x="603.7" y="471.7" width="1.9" height="2.2"/><rect x="601.8" y="482.4" width="1.8" height="2.2"/><rect x="628.8" y="465.8" width="1.4" height="1.2"/><rect x="543.7" y="519.7" width="0.9" height="1.1"/><rect x="574.6" y="482.6" width="1.0" height="1.7"/><rect x="543.5" y="505.4" width="1.4" height="1.4"/><rect x="608.5" y="477.5" width="0.9" height="0.9"/><rect x="612.7" y="467.0" width="2.2" height="2.3"/><rect x="626.8" y="466.3" width="1.6" height="1.7"/><rect x="576.9" y="478.2" width="1.2" height="1.5"/><rect x="642.0" y="455.1" width="2.0" height="2.6"/><rect x="574.9" y="490.6" width="1.7" height="2.1"/><rect x="654.4" y="452.1" width="2.0" height="3.0"/><rect x="619.0" y="469.1" width="1.9" height="1.6"/><rect x="608.6" y="462.7" width="1.4" height="2.2"/><rect x="617.1" y="469.7" width="1.9" height="2.4"/><rect x="550.9" y="510.6" width="1.9" height="1.8"/><rect x="585.5" y="479.0" width="0.9" height="1.5"/><rect x="578.6" y="496.0" width="1.8" height="2.5"/><rect x="572.6" y="502.4" width="1.4" height="2.4"/><rect x="649.0" y="444.5" width="1.8" height="2.7"/><rect x="644.4" y="457.6" width="1.1" height="1.8"/><rect x="539.3" y="517.8" width="1.4" height="2.4"/><rect x="610.9" y="477.7" width="1.0" height="1.3"/><rect x="600.9" y="480.4" width="1.7" height="1.4"/><rect x="573.9" y="486.5" width="1.3" height="1.3"/><rect x="548.7" y="492.6" width="2.0" height="2.4"/><rect x="576.1" y="497.5" width="2.0" height="3.5"/><rect x="641.2" y="443.0" width="1.8" height="1.6"/><rect x="647.6" y="455.5" width="1.9" height="2.2"/><rect x="539.8" y="514.3" width="1.2" height="2.1"/><rect x="556.3" y="503.8" width="1.5" height="1.2"/><rect x="571.0" y="501.5" width="1.9" height="3.0"/><rect x="646.9" y="456.0" width="1.2" height="1.4"/><rect x="576.0" y="499.7" width="1.9" height="1.5"/><rect x="601.3" y="484.8" width="1.3" height="1.4"/><rect x="581.3" y="472.2" width="1.9" height="2.3"/><rect x="652.6" y="451.4" width="1.1" height="1.6"/><rect x="623.1" y="460.4" width="1.6" height="2.4"/><rect x="565.7" y="480.4" width="1.9" height="3.0"/><rect x="591.5" y="468.7" width="1.5" height="2.6"/><rect x="578.2" y="472.1" width="1.3" height="1.7"/><rect x="601.2" y="478.7" width="2.0" height="3.3"/><rect x="555.8" y="502.9" width="1.6" height="1.9"/><rect x="543.2" y="499.7" width="2.2" height="3.3"/><rect x="605.4" y="482.7" width="1.3" height="1.5"/><rect x="548.2" y="514.8" width="1.4" height="1.7"/><rect x="547.5" y="518.3" width="2.1" height="2.9"/><rect x="564.4" y="503.5" width="1.4" height="1.8"/><rect x="554.7" y="502.3" width="2.1" height="3.0"/><rect x="643.2" y="444.1" width="1.6" height="2.1"/><rect x="617.6" y="471.7" width="1.0" height="1.3"/><rect x="629.2" y="458.2" width="1.0" height="1.5"/><rect x="542.5" y="515.9" width="1.1" height="1.2"/><rect x="562.7" y="501.2" width="1.8" height="3.1"/><rect x="598.1" y="487.6" width="0.9" height="0.8"/><rect x="554.1" y="513.7" width="1.3" height="1.2"/><rect x="636.0" y="460.3" width="1.5" height="2.4"/><rect x="558.0" y="506.6" width="1.0" height="1.2"/><rect x="643.2" y="452.1" width="1.3" height="1.9"/><rect x="594.9" y="483.6" width="1.7" height="2.6"/><rect x="643.5" y="444.2" width="1.8" height="2.9"/><rect x="561.6" y="508.8" width="2.0" height="2.5"/><rect x="536.7" y="513.5" width="1.1" height="1.2"/><rect x="645.1" y="456.8" width="2.0" height="2.1"/><rect x="629.3" y="464.1" width="1.6" height="2.4"/><rect x="621.7" y="471.2" width="1.8" height="1.7"/><rect x="561.9" y="496.5" width="1.1" height="1.3"/><rect x="549.6" y="510.1" width="1.1" height="1.3"/><rect x="650.1" y="450.2" width="1.6" height="1.3"/><rect x="569.9" y="504.6" width="1.7" height="1.6"/><rect x="559.9" y="510.5" width="1.9" height="2.7"/><rect x="572.2" y="500.7" width="1.3" height="1.7"/><rect x="605.0" y="482.5" width="1.1" height="1.6"/><rect x="567.7" y="496.8" width="1.1" height="1.0"/><rect x="539.9" y="506.0" width="1.6" height="1.3"/><rect x="576.8" y="492.0" width="1.2" height="1.9"/><rect x="537.6" y="518.8" width="1.6" height="1.6"/><rect x="650.2" y="448.2" width="1.1" height="1.7"/><rect x="538.6" y="514.4" width="2.0" height="2.9"/><rect x="542.6" y="522.1" width="2.0" height="3.3"/><rect x="559.9" y="487.1" width="2.0" height="1.8"/><rect x="641.8" y="460.7" width="1.3" height="1.3"/><rect x="561.4" y="504.5" width="1.0" height="1.7"/><rect x="559.5" y="501.4" width="1.4" height="2.3"/><rect x="601.6" y="479.4" width="1.9" height="2.6"/><rect x="591.2" y="490.6" width="1.9" height="2.8"/><rect x="587.7" y="481.8" width="1.1" height="1.3"/><rect x="611.4" y="477.0" width="2.2" height="3.9"/><rect x="608.9" y="469.5" width="1.3" height="2.0"/><rect x="636.4" y="458.5" width="1.6" height="2.4"/><rect x="568.6" y="506.0" width="1.1" height="1.5"/><rect x="605.0" y="465.6" width="1.2" height="1.2"/><rect x="587.6" y="492.9" width="1.2" height="1.6"/><rect x="618.4" y="474.4" width="1.1" height="1.4"/><rect x="599.2" y="485.6" width="1.8" height="2.4"/><rect x="637.6" y="434.5" width="1.7" height="1.5"/><rect x="598.8" y="484.7" width="1.3" height="1.1"/><rect x="615.0" y="467.5" width="1.3" height="1.3"/><rect x="650.7" y="447.7" width="1.8" height="1.9"/><rect x="643.0" y="448.2" width="1.6" height="1.4"/><rect x="590.3" y="492.8" width="1.2" height="1.9"/><rect x="552.0" y="514.7" width="1.3" height="2.4"/><rect x="556.8" y="508.8" width="1.6" height="1.3"/><rect x="604.6" y="483.4" width="1.3" height="1.5"/><rect x="652.2" y="448.9" width="1.3" height="1.5"/><rect x="573.9" y="501.5" width="1.3" height="2.0"/><rect x="579.6" y="497.2" width="0.9" height="1.5"/><rect x="573.1" y="500.7" width="2.0" height="3.5"/><rect x="603.2" y="484.3" width="2.0" height="3.1"/><rect x="540.8" y="520.6" width="2.0" height="2.5"/><rect x="563.8" y="507.6" width="1.8" height="3.2"/><rect x="621.3" y="473.4" width="0.9" height="0.9"/><rect x="548.8" y="508.5" width="1.8" height="1.5"/><rect x="642.3" y="457.0" width="1.4" height="2.2"/><rect x="598.4" y="478.7" width="1.0" height="1.4"/><rect x="549.9" y="501.8" width="1.9" height="2.8"/><rect x="630.0" y="456.4" width="1.4" height="1.1"/><rect x="654.8" y="452.2" width="1.0" height="1.3"/><rect x="651.6" y="449.2" width="1.2" height="1.0"/><rect x="556.8" y="509.6" width="1.4" height="1.4"/><rect x="651.6" y="452.7" width="1.8" height="1.7"/><rect x="590.3" y="486.4" width="1.3" height="2.1"/><rect x="558.5" y="497.5" width="1.9" height="2.7"/><rect x="548.4" y="517.8" width="1.9" height="3.4"/><rect x="563.0" y="499.6" width="1.9" height="3.1"/><rect x="554.9" y="512.9" width="1.0" height="1.5"/><rect x="576.2" y="490.5" width="1.1" height="1.6"/><rect x="569.1" y="500.8" width="1.7" height="2.9"/><rect x="555.7" y="500.2" width="1.0" height="0.9"/><rect x="619.9" y="473.7" width="2.0" height="3.4"/><rect x="560.2" y="500.2" width="1.7" height="3.1"/><rect x="595.1" y="485.6" width="2.0" height="2.2"/><rect x="643.2" y="455.8" width="1.4" height="2.3"/><rect x="626.2" y="468.7" width="1.8" height="3.1"/><rect x="582.7" y="490.0" width="1.8" height="2.7"/><rect x="583.0" y="493.0" width="1.1" height="1.6"/><rect x="571.5" y="490.1" width="1.0" height="1.5"/><rect x="549.9" y="499.0" width="2.0" height="2.3"/><rect x="550.6" y="515.5" width="1.2" height="2.1"/><rect x="632.7" y="466.3" width="0.9" height="1.2"/><rect x="589.0" y="486.2" width="2.0" height="3.3"/><rect x="590.2" y="487.0" width="1.1" height="1.1"/><rect x="560.2" y="508.6" width="1.6" height="1.7"/><rect x="570.7" y="504.1" width="1.0" height="1.7"/><rect x="588.0" y="488.7" width="1.1" height="1.9"/><rect x="535.1" y="512.9" width="1.0" height="1.0"/><rect x="593.4" y="485.3" width="1.8" height="2.5"/><rect x="620.5" y="473.5" width="1.3" height="1.4"/><rect x="593.2" y="486.1" width="1.0" height="1.0"/><rect x="547.0" y="519.4" width="1.7" height="3.1"/><rect x="607.4" y="480.2" width="1.7" height="2.2"/><rect x="565.7" y="492.9" width="1.2" height="1.4"/><rect x="544.3" y="519.0" width="2.1" height="2.7"/><rect x="621.1" y="467.5" width="1.2" height="1.4"/><rect x="597.1" y="485.3" width="1.6" height="1.3"/><rect x="584.2" y="495.6" width="1.5" height="2.0"/><rect x="636.0" y="445.1" width="2.1" height="2.6"/><rect x="566.0" y="490.4" width="1.1" height="1.2"/><rect x="540.1" y="508.5" width="1.9" height="3.2"/><rect x="553.8" y="498.7" width="1.8" height="2.4"/><rect x="584.1" y="481.4" width="1.5" height="2.6"/><rect x="644.5" y="454.9" width="1.6" height="2.0"/><rect x="635.5" y="446.7" width="1.4" height="1.7"/><rect x="572.0" y="494.1" width="1.8" height="2.5"/><rect x="595.3" y="479.4" width="0.9" height="1.2"/><rect x="614.2" y="465.7" width="2.0" height="2.0"/><rect x="604.1" y="468.2" width="1.2" height="1.1"/><rect x="561.9" y="503.5" width="2.1" height="2.4"/><rect x="639.8" y="445.4" width="1.0" height="0.8"/><rect x="651.8" y="448.1" width="1.9" height="3.2"/><rect x="575.1" y="502.3" width="2.0" height="3.5"/><rect x="581.4" y="488.3" width="0.9" height="1.6"/><rect x="617.4" y="471.9" width="1.1" height="1.5"/><rect x="636.2" y="457.2" width="1.6" height="1.6"/><rect x="556.0" y="511.8" width="1.3" height="1.6"/><rect x="647.0" y="454.6" width="1.2" height="1.8"/><rect x="646.8" y="455.3" width="1.3" height="1.6"/><rect x="546.8" y="519.2" width="1.6" height="1.7"/><rect x="560.0" y="496.4" width="1.5" height="2.1"/><rect x="609.7" y="468.1" width="2.1" height="3.7"/><rect x="547.3" y="507.1" width="0.9" height="0.9"/><rect x="569.0" y="504.9" width="1.1" height="1.1"/><rect x="626.9" y="455.6" width="1.6" height="2.1"/><rect x="622.3" y="464.6" width="1.0" height="1.3"/><rect x="560.8" y="505.4" width="2.2" height="2.2"/><rect x="573.5" y="495.2" width="1.8" height="1.9"/><rect x="582.6" y="491.3" width="2.1" height="1.8"/><rect x="639.0" y="455.0" width="2.1" height="2.5"/><rect x="614.8" y="477.5" width="1.2" height="1.7"/><rect x="574.9" y="495.7" width="2.2" height="3.0"/><rect x="613.5" y="470.7" width="1.2" height="2.2"/><rect x="583.8" y="496.8" width="1.5" height="1.8"/><rect x="561.5" y="505.7" width="1.0" height="1.7"/><rect x="598.6" y="484.6" width="1.6" height="2.2"/><rect x="577.8" y="485.1" width="1.5" height="2.6"/><rect x="623.2" y="461.4" width="1.1" height="1.7"/><rect x="645.5" y="442.8" width="1.0" height="1.0"/><rect x="535.8" y="516.7" width="2.1" height="3.1"/><rect x="613.1" y="471.4" width="1.8" height="2.5"/><rect x="631.3" y="465.9" width="1.5" height="2.2"/><rect x="544.6" y="513.7" width="2.1" height="1.9"/><rect x="619.1" y="463.1" width="2.1" height="3.6"/><rect x="609.5" y="472.4" width="1.5" height="1.9"/><rect x="607.6" y="478.3" width="1.9" height="2.6"/><rect x="587.1" y="488.2" width="1.8" height="3.0"/><rect x="628.5" y="457.5" width="1.2" height="1.0"/><rect x="553.7" y="514.9" width="1.6" height="1.4"/><rect x="588.5" y="480.8" width="1.5" height="2.5"/><rect x="578.7" y="494.0" width="1.2" height="1.2"/><rect x="606.0" y="481.9" width="1.1" height="1.2"/><rect x="564.0" y="506.8" width="2.2" height="3.0"/><rect x="614.8" y="475.1" width="2.2" height="3.7"/><rect x="613.6" y="476.0" width="1.5" height="1.7"/><rect x="627.0" y="465.3" width="1.0" height="1.7"/><rect x="577.4" y="499.2" width="1.8" height="1.7"/><rect x="607.2" y="476.9" width="1.1" height="1.9"/><rect x="619.6" y="474.2" width="2.1" height="3.0"/><rect x="628.3" y="455.3" width="1.1" height="1.2"/><rect x="552.9" y="500.6" width="2.1" height="2.9"/><rect x="597.5" y="483.0" width="1.3" height="2.3"/><rect x="553.4" y="514.0" width="2.0" height="1.7"/><rect x="559.8" y="504.9" width="1.2" height="1.4"/><rect x="538.4" y="514.9" width="1.0" height="1.1"/><rect x="546.8" y="508.9" width="1.2" height="1.6"/><rect x="540.5" y="516.2" width="1.3" height="2.3"/><rect x="561.0" y="507.9" width="2.0" height="1.7"/><rect x="593.7" y="484.6" width="1.3" height="1.2"/><rect x="597.4" y="488.3" width="0.9" height="1.0"/><rect x="582.3" y="495.1" width="1.8" height="2.2"/><rect x="606.3" y="474.6" width="1.8" height="3.2"/><rect x="599.6" y="476.0" width="1.6" height="1.4"/><rect x="632.8" y="459.4" width="1.0" height="1.5"/><rect x="585.1" y="468.5" width="1.4" height="1.8"/><rect x="631.8" y="442.3" width="1.9" height="2.4"/><rect x="584.0" y="484.3" width="2.1" height="2.6"/><rect x="617.3" y="468.4" width="1.6" height="1.6"/><rect x="571.3" y="502.0" width="2.2" height="1.8"/><rect x="564.4" y="507.0" width="2.0" height="2.9"/><rect x="575.2" y="501.3" width="1.8" height="2.7"/><rect x="608.5" y="469.8" width="1.7" height="1.4"/><rect x="622.7" y="453.5" width="1.1" height="1.3"/><rect x="626.1" y="453.2" width="1.1" height="1.9"/><rect x="633.7" y="463.8" width="2.1" height="3.4"/><rect x="635.6" y="443.2" width="1.0" height="1.0"/><rect x="631.9" y="465.2" width="1.4" height="2.1"/><rect x="633.4" y="461.3" width="1.4" height="2.1"/><rect x="650.3" y="446.3" width="1.4" height="1.4"/><rect x="557.7" y="504.4" width="1.8" height="1.9"/><rect x="621.7" y="464.7" width="1.6" height="2.2"/><rect x="587.4" y="494.6" width="1.6" height="2.3"/><rect x="613.9" y="476.7" width="2.0" height="2.4"/><rect x="638.4" y="435.8" width="1.0" height="0.9"/><rect x="541.1" y="513.1" width="1.5" height="2.2"/><rect x="573.7" y="494.9" width="1.0" height="1.0"/><rect x="623.4" y="469.9" width="1.0" height="1.5"/><rect x="641.3" y="435.3" width="2.0" height="3.1"/><rect x="540.4" y="522.5" width="1.7" height="2.2"/><rect x="636.2" y="464.1" width="1.7" height="1.5"/><rect x="626.5" y="469.5" width="1.5" height="2.4"/><rect x="646.5" y="443.0" width="1.9" height="2.1"/><rect x="610.2" y="473.2" width="1.5" height="2.2"/><rect x="589.3" y="489.1" width="1.9" height="2.7"/><rect x="640.9" y="436.8" width="1.9" height="1.8"/><rect x="595.1" y="483.5" width="1.9" height="3.3"/><rect x="562.8" y="510.0" width="2.0" height="3.6"/><rect x="575.1" y="493.8" width="1.4" height="1.7"/><rect x="608.3" y="470.7" width="2.1" height="2.4"/><rect x="594.4" y="484.8" width="2.2" height="2.9"/><rect x="537.2" y="512.2" width="1.0" height="1.4"/><rect x="612.2" y="478.5" width="1.7" height="2.5"/><rect x="576.9" y="494.0" width="1.4" height="1.3"/><rect x="557.3" y="486.8" width="1.7" height="2.3"/><rect x="624.9" y="454.3" width="1.9" height="2.3"/><rect x="600.6" y="482.9" width="1.0" height="1.7"/><rect x="547.5" y="515.3" width="2.0" height="2.2"/><rect x="644.8" y="458.8" width="1.1" height="1.4"/><rect x="606.4" y="468.1" width="2.1" height="3.3"/><rect x="542.9" y="516.6" width="1.4" height="1.1"/><rect x="649.8" y="451.9" width="2.2" height="3.4"/><rect x="540.1" y="515.6" width="1.2" height="1.3"/><rect x="621.6" y="471.3" width="1.4" height="1.1"/><rect x="575.6" y="498.7" width="1.0" height="0.9"/><rect x="586.6" y="494.5" width="2.1" height="2.2"/><rect x="582.1" y="497.4" width="2.0" height="1.9"/><rect x="547.0" y="515.6" width="2.1" height="3.6"/><rect x="590.1" y="484.9" width="1.0" height="1.7"/><rect x="625.6" y="468.3" width="2.0" height="1.9"/><rect x="594.2" y="487.4" width="1.6" height="1.7"/><rect x="601.4" y="483.3" width="0.9" height="0.8"/><rect x="628.2" y="463.7" width="1.6" height="2.3"/><rect x="568.7" y="504.5" width="1.4" height="2.2"/><rect x="621.6" y="467.7" width="1.7" height="1.8"/><rect x="644.7" y="449.5" width="1.9" height="2.3"/><rect x="601.4" y="474.4" width="1.6" height="2.5"/><rect x="564.9" y="494.3" width="1.3" height="1.7"/><rect x="554.5" y="510.4" width="2.1" height="1.7"/><rect x="558.5" y="505.4" width="1.8" height="2.6"/><rect x="613.6" y="466.5" width="1.7" height="1.6"/><rect x="601.3" y="483.0" width="0.9" height="1.2"/><rect x="649.5" y="450.2" width="1.9" height="2.7"/><rect x="541.1" y="516.1" width="2.2" height="3.2"/><rect x="564.3" y="487.0" width="1.8" height="3.1"/><rect x="633.9" y="457.6" width="1.5" height="2.0"/><rect x="568.7" y="488.4" width="1.1" height="1.9"/><rect x="576.7" y="496.0" width="1.7" height="1.9"/><rect x="609.8" y="480.3" width="2.0" height="1.8"/><rect x="632.1" y="448.5" width="1.9" height="3.0"/><rect x="558.1" y="505.2" width="1.0" height="1.5"/><rect x="629.7" y="466.2" width="1.5" height="1.3"/><rect x="611.7" y="468.3" width="1.0" height="1.4"/><rect x="640.3" y="460.0" width="2.1" height="2.2"/><rect x="541.8" y="522.4" width="1.9" height="1.9"/><rect x="636.5" y="458.8" width="1.0" height="1.6"/><rect x="577.3" y="499.8" width="0.9" height="1.0"/><rect x="590.3" y="486.5" width="1.7" height="1.5"/><rect x="531.2" y="509.3" width="1.5" height="2.2"/><rect x="639.1" y="454.1" width="1.9" height="1.9"/><rect x="561.5" y="504.2" width="2.2" height="3.9"/><rect x="562.5" y="500.8" width="1.3" height="1.5"/><rect x="581.6" y="492.5" width="1.0" height="1.7"/><rect x="542.5" y="506.1" width="1.2" height="1.3"/><rect x="543.2" y="518.2" width="2.1" height="2.5"/><rect x="572.5" y="491.2" width="1.2" height="1.9"/><rect x="642.9" y="441.9" width="1.0" height="1.5"/><rect x="624.0" y="457.0" width="1.7" height="1.5"/><rect x="614.2" y="469.9" width="1.5" height="2.4"/><rect x="559.2" y="507.9" width="1.7" height="2.9"/><rect x="644.6" y="438.6" width="1.2" height="1.5"/><rect x="597.8" y="482.5" width="1.0" height="1.2"/><rect x="645.1" y="454.4" width="2.0" height="3.5"/><rect x="588.6" y="470.6" width="2.2" height="1.8"/><rect x="594.8" y="461.2" width="1.3" height="1.5"/><rect x="548.5" y="498.9" width="1.6" height="2.3"/><rect x="599.0" y="466.1" width="1.6" height="2.1"/><rect x="589.8" y="489.4" width="2.2" height="3.1"/><rect x="596.6" y="488.2" width="1.7" height="1.5"/><rect x="593.4" y="488.8" width="1.4" height="1.4"/><rect x="563.5" y="504.2" width="1.1" height="1.1"/><rect x="622.4" y="472.0" width="2.0" height="2.4"/><rect x="558.2" y="499.0" width="1.4" height="1.6"/><rect x="539.5" y="522.8" width="2.1" height="2.7"/><rect x="586.4" y="487.0" width="1.0" height="1.0"/><rect x="634.9" y="455.8" width="1.3" height="2.2"/><rect x="571.1" y="499.3" width="1.9" height="3.2"/><rect x="563.0" y="507.1" width="1.6" height="2.1"/><rect x="599.5" y="481.3" width="1.9" height="2.0"/><rect x="585.3" y="485.4" width="2.1" height="2.2"/><rect x="578.3" y="494.5" width="1.2" height="1.6"/><rect x="647.0" y="455.1" width="2.0" height="3.3"/><rect x="594.5" y="486.3" width="1.1" height="1.4"/><rect x="635.1" y="460.5" width="1.2" height="2.0"/><rect x="554.8" y="507.3" width="1.9" height="2.5"/><rect x="570.0" y="497.1" width="1.3" height="2.0"/><rect x="624.6" y="456.3" width="1.9" height="1.8"/><rect x="566.5" y="497.4" width="1.7" height="2.9"/><rect x="590.5" y="492.2" width="1.0" height="0.8"/><rect x="600.4" y="483.0" width="0.9" height="1.6"/><rect x="545.9" y="516.6" width="1.9" height="2.8"/><rect x="584.1" y="480.5" width="1.4" height="2.1"/><rect x="649.7" y="455.4" width="1.6" height="2.3"/><rect x="647.4" y="448.8" width="1.2" height="1.2"/><rect x="603.0" y="483.3" width="1.4" height="2.4"/><rect x="560.2" y="509.6" width="1.8" height="2.3"/><rect x="642.8" y="456.5" width="1.9" height="2.3"/><rect x="643.6" y="436.1" width="1.2" height="1.3"/><rect x="591.9" y="486.0" width="1.7" height="2.5"/><rect x="552.9" y="506.4" width="2.0" height="2.4"/><rect x="569.9" y="502.9" width="1.7" height="1.6"/><rect x="563.0" y="506.6" width="1.8" height="2.8"/><rect x="602.0" y="484.2" width="1.4" height="1.2"/><rect x="652.0" y="448.7" width="2.0" height="2.1"/><rect x="571.3" y="503.4" width="1.4" height="2.1"/><rect x="601.9" y="482.1" width="1.1" height="1.1"/><rect x="627.8" y="467.8" width="2.2" height="3.6"/><rect x="559.6" y="512.0" width="2.0" height="1.7"/><rect x="614.1" y="471.6" width="1.4" height="2.0"/><rect x="536.3" y="513.6" width="2.0" height="1.7"/><rect x="564.7" y="491.7" width="1.2" height="1.1"/><rect x="652.8" y="452.0" width="1.1" height="0.9"/><rect x="552.1" y="513.0" width="2.1" height="3.3"/><rect x="558.8" y="507.8" width="1.6" height="1.5"/><rect x="546.0" y="518.6" width="1.3" height="1.1"/><rect x="592.0" y="486.6" width="1.6" height="2.6"/><rect x="576.5" y="477.7" width="2.1" height="2.3"/><rect x="593.2" y="461.7" width="1.3" height="2.3"/><rect x="592.9" y="480.8" width="1.0" height="1.2"/><rect x="614.6" y="475.7" width="2.2" height="2.6"/><rect x="598.9" y="473.4" width="1.3" height="2.0"/><rect x="617.9" y="461.7" width="1.3" height="1.5"/><rect x="604.7" y="478.4" width="1.5" height="2.1"/><rect x="626.7" y="468.9" width="1.2" height="1.1"/><rect x="598.8" y="485.5" width="2.1" height="2.1"/><rect x="585.3" y="482.3" width="1.3" height="1.1"/><rect x="561.5" y="499.4" width="1.4" height="2.4"/><rect x="556.5" y="510.6" width="1.5" height="1.7"/><rect x="573.7" y="502.3" width="1.6" height="2.4"/><rect x="609.7" y="476.6" width="1.4" height="1.5"/><rect x="548.4" y="513.1" width="1.6" height="2.5"/><rect x="549.1" y="518.4" width="2.1" height="2.4"/><rect x="614.4" y="458.2" width="1.3" height="1.2"/><rect x="628.3" y="465.9" width="1.6" height="1.2"/><rect x="604.7" y="478.6" width="1.2" height="1.2"/><rect x="636.8" y="442.4" width="1.3" height="1.5"/><rect x="577.4" y="497.0" width="1.4" height="2.5"/><rect x="540.2" y="519.9" width="1.6" height="2.3"/><rect x="573.0" y="491.7" width="1.5" height="1.4"/><rect x="643.8" y="457.4" width="1.8" height="3.1"/><rect x="553.6" y="502.5" width="1.9" height="2.2"/><rect x="644.8" y="457.6" width="1.6" height="2.8"/><rect x="591.6" y="472.5" width="1.4" height="2.1"/><rect x="590.7" y="481.1" width="1.9" height="2.8"/><rect x="626.4" y="468.2" width="1.7" height="2.8"/><rect x="625.1" y="469.5" width="1.6" height="1.3"/><rect x="647.2" y="447.7" width="1.2" height="1.7"/><rect x="572.6" y="496.3" width="1.9" height="3.2"/><rect x="648.4" y="446.6" width="1.6" height="2.1"/><rect x="557.5" y="513.1" width="2.1" height="3.6"/><rect x="634.6" y="463.4" width="1.7" height="1.7"/><rect x="570.5" y="490.5" width="2.1" height="1.7"/><rect x="624.4" y="460.1" width="1.8" height="1.7"/><rect x="574.6" y="489.9" width="1.2" height="1.1"/><rect x="594.4" y="488.7" width="1.2" height="1.2"/><rect x="564.1" y="508.3" width="1.4" height="1.6"/><rect x="555.5" y="512.8" width="1.4" height="1.2"/><rect x="574.1" y="502.6" width="1.9" height="1.7"/><rect x="593.5" y="489.6" width="1.8" height="3.2"/><rect x="620.7" y="473.2" width="1.2" height="1.1"/><rect x="641.5" y="460.3" width="1.9" height="3.0"/><rect x="633.6" y="460.8" width="1.4" height="1.7"/><rect x="612.3" y="473.0" width="1.8" height="2.2"/><rect x="633.1" y="457.7" width="1.3" height="1.5"/><rect x="556.2" y="490.8" width="1.0" height="1.2"/><rect x="585.5" y="487.2" width="1.0" height="1.5"/><rect x="554.1" y="512.4" width="1.3" height="1.1"/><rect x="654.7" y="452.3" width="2.1" height="3.1"/><rect x="643.1" y="451.6" width="1.6" height="2.0"/><rect x="601.6" y="482.2" width="1.1" height="1.6"/><rect x="640.5" y="453.0" width="1.2" height="1.6"/><rect x="550.5" y="499.3" width="1.9" height="2.2"/><rect x="567.9" y="486.2" width="1.5" height="1.3"/><rect x="614.6" y="472.7" width="1.1" height="1.7"/><rect x="563.4" y="507.7" width="1.6" height="1.7"/><rect x="575.9" y="496.3" width="2.1" height="2.9"/><rect x="582.2" y="481.3" width="2.1" height="3.6"/><rect x="536.1" y="511.3" width="1.9" height="2.9"/><rect x="619.1" y="464.9" width="1.2" height="2.0"/></g>
<g fill="#fff" opacity="0.9"><rect x="638.8" y="475.0" width="1.1" height="0.7"/><rect x="578.6" y="510.9" width="0.7" height="0.6"/><rect x="619.0" y="485.2" width="1.5" height="0.6"/><rect x="588.1" y="508.2" width="1.5" height="1.1"/><rect x="570.3" y="517.2" width="1.3" height="1.0"/><rect x="605.0" y="494.6" width="0.8" height="0.6"/><rect x="570.7" y="516.7" width="0.7" height="1.1"/><rect x="586.5" y="509.9" width="1.2" height="1.0"/><rect x="632.8" y="477.4" width="1.5" height="1.0"/><rect x="651.9" y="463.0" width="0.9" height="0.9"/><rect x="575.6" y="512.8" width="1.0" height="0.9"/><rect x="593.8" y="504.1" width="1.2" height="1.0"/><rect x="592.1" y="505.5" width="1.2" height="1.0"/><rect x="611.1" y="488.8" width="1.5" height="1.1"/><rect x="616.1" y="484.9" width="1.2" height="0.9"/><rect x="576.4" y="514.3" width="1.0" height="0.8"/><rect x="584.0" y="510.3" width="0.7" height="0.9"/><rect x="599.3" y="496.5" width="1.3" height="1.2"/><rect x="651.4" y="467.8" width="1.3" height="1.2"/><rect x="563.9" y="523.4" width="0.6" height="0.7"/><rect x="653.0" y="461.7" width="0.7" height="0.6"/><rect x="564.4" y="518.4" width="0.9" height="0.9"/><rect x="592.3" y="503.5" width="1.2" height="1.2"/><rect x="561.2" y="523.3" width="1.3" height="1.1"/><rect x="621.0" y="486.1" width="0.6" height="0.7"/><rect x="612.1" y="487.7" width="1.2" height="1.0"/><rect x="593.8" y="500.3" width="1.6" height="0.9"/><rect x="621.9" y="483.8" width="0.9" height="1.1"/><rect x="562.3" y="522.7" width="1.5" height="0.9"/><rect x="596.2" y="502.4" width="1.0" height="1.0"/><rect x="625.7" y="480.8" width="1.6" height="0.8"/><rect x="583.8" y="507.6" width="1.5" height="1.0"/><rect x="643.7" y="468.0" width="0.6" height="1.0"/><rect x="579.6" y="509.9" width="1.4" height="1.1"/><rect x="574.7" y="515.1" width="0.8" height="1.1"/><rect x="628.4" y="479.6" width="1.1" height="1.0"/><rect x="603.0" y="498.2" width="1.6" height="1.1"/><rect x="606.3" y="493.6" width="0.8" height="0.7"/><rect x="559.4" y="522.9" width="1.4" height="0.8"/><rect x="574.9" y="514.5" width="0.9" height="1.1"/><rect x="580.9" y="511.8" width="1.0" height="1.1"/><rect x="630.5" y="481.1" width="0.7" height="0.6"/><rect x="624.3" y="481.5" width="0.8" height="0.8"/><rect x="645.4" y="472.0" width="1.3" height="1.1"/><rect x="623.7" y="484.1" width="1.3" height="1.2"/><rect x="612.7" y="489.2" width="1.2" height="1.2"/><rect x="656.5" y="460.9" width="1.1" height="0.7"/><rect x="605.8" y="494.8" width="1.3" height="0.9"/><rect x="580.5" y="512.4" width="1.3" height="0.9"/><rect x="636.3" y="476.9" width="1.0" height="0.7"/><rect x="572.8" y="516.4" width="0.9" height="1.2"/><rect x="565.2" y="520.2" width="0.7" height="1.1"/><rect x="564.0" y="518.7" width="0.9" height="0.8"/><rect x="564.1" y="520.1" width="0.7" height="1.0"/><rect x="611.1" y="492.5" width="1.2" height="1.0"/><rect x="559.8" y="521.0" width="1.5" height="1.1"/><rect x="652.1" y="465.8" width="0.7" height="0.9"/><rect x="650.4" y="464.7" width="0.7" height="1.1"/><rect x="639.6" y="473.0" width="1.2" height="1.1"/><rect x="598.0" y="497.4" width="1.2" height="1.1"/><rect x="644.6" y="471.8" width="0.8" height="1.0"/><rect x="591.4" y="504.9" width="0.6" height="0.9"/><rect x="659.8" y="460.5" width="0.8" height="0.8"/><rect x="618.9" y="489.1" width="0.8" height="0.9"/><rect x="592.0" y="501.9" width="0.7" height="0.6"/><rect x="649.7" y="464.7" width="1.2" height="1.0"/><rect x="575.5" y="516.0" width="1.0" height="1.0"/><rect x="603.0" y="496.1" width="0.7" height="1.2"/><rect x="579.7" y="511.7" width="1.4" height="1.2"/><rect x="593.1" y="502.8" width="1.4" height="0.9"/><rect x="567.5" y="520.6" width="0.9" height="0.6"/><rect x="559.7" y="521.2" width="1.4" height="1.1"/><rect x="586.6" y="507.6" width="1.5" height="0.6"/><rect x="600.2" y="498.8" width="1.3" height="1.0"/><rect x="657.7" y="458.2" width="1.2" height="1.2"/><rect x="618.1" y="488.4" width="1.1" height="0.8"/><rect x="649.2" y="464.6" width="0.7" height="1.0"/><rect x="621.3" y="482.7" width="0.7" height="0.9"/><rect x="565.9" y="520.3" width="1.0" height="0.8"/><rect x="597.2" y="499.7" width="0.7" height="0.9"/><rect x="561.5" y="521.3" width="0.6" height="0.9"/><rect x="553.7" y="525.8" width="1.5" height="1.0"/><rect x="602.4" y="496.8" width="1.4" height="0.6"/><rect x="591.7" y="503.5" width="0.8" height="0.9"/><rect x="592.3" y="505.3" width="1.2" height="0.9"/><rect x="567.3" y="518.7" width="0.8" height="0.9"/><rect x="587.2" y="504.8" width="1.2" height="0.6"/><rect x="588.9" y="503.5" width="0.9" height="1.1"/><rect x="643.9" y="467.3" width="1.4" height="0.9"/><rect x="606.0" y="496.9" width="0.9" height="0.8"/></g>
<path d="M572,518 L660.3,464.5" stroke="#fff" stroke-width="0.8" stroke-dasharray="5 3 2 4 8 3" fill="none" opacity="0.7"/>
</g>
<path d="M531.3,476.6 L661.6,393.8" stroke="#000" stroke-width="2" fill="none"/>
<g fill="none" stroke="#000" stroke-width="2.2" stroke-linejoin="round" stroke-linecap="round">
<path d="M488.6,481.5 C492,479.5 500,479 508.7,485.1 L527.5,514 C536,527 543,537 544.6,546 C545.2,551 543.5,556 540.5,561"/>
<path d="M508.7,485.1 C511,481.5 513.5,480.5 515.8,481.5 L548.1,533.8"/>
<path d="M515.8,481.5 C518.5,478.5 521,477.5 523.7,477.9 L553.8,531.6"/>
<path d="M523.7,477.9 C526,475.8 528.5,475.8 530.6,477 L558.1,529.5"/>
<path d="M543.1,538.1 L558.1,529.5 L568,523.8"/>
</g>
<path transform="translate(307.6,926.6) rotate(0.4) translate(-9.75,13.00)" d="M1.6,-19 C2.2,-23.5 5.5,-26 10,-26 C14.8,-26 17.8,-22.8 17.8,-18.5 C17.8,-13.5 12.5,-8.5 1.8,0 L18.2,0" fill="none" stroke="#000" stroke-width="3.4" stroke-linecap="round" stroke-linejoin="round"/>
<path transform="translate(337.6,922.3) rotate(-6.0) translate(-14.25,14.00)" d="M14.25,-26.3 A12.6,12.3 0 1 0 14.25,-1.7 A12.6,12.3 0 1 0 14.25,-26.3 Z" fill="none" stroke="#000" stroke-width="3.3" stroke-linecap="round" stroke-linejoin="round"/>
<path transform="translate(370.5,917.2) rotate(-13.1) translate(-14.25,14.00)" d="M14.25,-26.3 A12.6,12.3 0 1 0 14.25,-1.7 A12.6,12.3 0 1 0 14.25,-26.3 Z" fill="none" stroke="#000" stroke-width="3.3" stroke-linecap="round" stroke-linejoin="round"/>
<path transform="translate(409.8,904.5) rotate(-21.9) translate(-5.50,12.50)" d="M0,-25 L11,-25 M5.5,-25 L5.5,0" fill="none" stroke="#000" stroke-width="2.4" stroke-linecap="round" stroke-linejoin="round"/>
<path transform="translate(431.0,896.7) rotate(-26.7) translate(0.00,12.50)" d="M0,-25 L0,0" fill="none" stroke="#000" stroke-width="2.4" stroke-linecap="round" stroke-linejoin="round"/>
<path transform="translate(453.6,885.6) rotate(-32.0) translate(-9.50,12.50)" d="M0,0 L3.6,-25 L9.5,-1 L15.4,-25 L19,0" fill="none" stroke="#000" stroke-width="2.4" stroke-linecap="round" stroke-linejoin="round"/>
<path transform="translate(475.2,870.1) rotate(-37.6) translate(-5.00,12.50)" d="M10,-25 L0,-25 L0,0 L10,0 M0,-12.5 L8.5,-12.5" fill="none" stroke="#000" stroke-width="2.4" stroke-linecap="round" stroke-linejoin="round"/>
<path transform="translate(492.1,856.4) rotate(-42.2) translate(-5.50,12.50)" d="M10.2,-21.5 C9,-24 7.3,-25.2 5.4,-25.2 C2.4,-25.2 0.5,-22.9 0.5,-19.6 C0.5,-16.2 3,-14.5 5.6,-13 C8.6,-11.4 10.9,-9.6 10.9,-6 C10.9,-2.5 8.6,0.2 5.4,0.2 C3,0.2 1.2,-1 0,-3.2" fill="none" stroke="#000" stroke-width="2.4" stroke-linecap="round" stroke-linejoin="round"/>
<path transform="translate(519.9,828.8) rotate(-50.4) translate(-9.50,12.50)" d="M0,0 L3.6,-25 L9.5,-1 L15.4,-25 L19,0" fill="none" stroke="#000" stroke-width="2.4" stroke-linecap="round" stroke-linejoin="round"/>
<path transform="translate(538.4,808.2) rotate(-56.2) translate(-8.00,12.50)" d="M0,0 L8,-25.5 L16,0 M3.2,-9 L12.8,-9" fill="none" stroke="#000" stroke-width="2.4" stroke-linecap="round" stroke-linejoin="round"/>
<path transform="translate(552.1,780.8) rotate(-62.6) translate(-11.00,12.50)" d="M20.5,-20.5 C18.5,-23.5 15.3,-25.2 11.5,-25.2 C4.8,-25.2 0,-19.8 0,-12.5 C0,-5.2 4.8,0.2 11.3,0.2 C17.5,0.2 22,-4.5 22,-10.8 L13.5,-10.8" fill="none" stroke="#000" stroke-width="2.4" stroke-linecap="round" stroke-linejoin="round"/>
<path transform="translate(564.2,754.8) rotate(-68.6) translate(-7.00,12.50)" d="M0,0 L0,-25 L14,0 L14,-25" fill="none" stroke="#000" stroke-width="2.4" stroke-linecap="round" stroke-linejoin="round"/>
<path transform="translate(571.1,734.5) rotate(-73.1) translate(0.00,12.50)" d="M0,-25 L0,0" fill="none" stroke="#000" stroke-width="2.4" stroke-linecap="round" stroke-linejoin="round"/>
<path transform="translate(576.7,714.7) rotate(-77.4) translate(-5.00,12.50)" d="M0,0 L0,-25 L10,-25 M0,-13.5 L6.5,-13.5" fill="none" stroke="#000" stroke-width="2.4" stroke-linecap="round" stroke-linejoin="round"/>
<path transform="translate(578.8,697.2) rotate(-81.1) translate(0.00,12.50)" d="M0,-25 L0,0" fill="none" stroke="#000" stroke-width="2.4" stroke-linecap="round" stroke-linejoin="round"/>
<path transform="translate(581.1,676.4) rotate(-85.5) translate(-6.25,12.50)" d="M12.5,-24.8 C5.5,-24.8 0,-19.3 0,-12.5 C0,-5.7 5.5,0.2 12.5,0.2" fill="none" stroke="#000" stroke-width="2.4" stroke-linecap="round" stroke-linejoin="round"/>
<path transform="translate(580.9,649.8) rotate(-91.1) translate(-8.00,12.50)" d="M0,0 L8,-25.5 L16,0 M3.2,-9 L12.8,-9" fill="none" stroke="#000" stroke-width="2.4" stroke-linecap="round" stroke-linejoin="round"/>
<path transform="translate(580.5,629.4) rotate(-95.4) translate(-5.50,12.50)" d="M0,-25 L11,-25 M5.5,-25 L5.5,0" fill="none" stroke="#000" stroke-width="2.4" stroke-linecap="round" stroke-linejoin="round"/>
<path transform="translate(579.2,609.4) rotate(-99.6) translate(0.00,12.50)" d="M0,-25 L0,0" fill="none" stroke="#000" stroke-width="2.4" stroke-linecap="round" stroke-linejoin="round"/>
<path transform="translate(572.8,583.5) rotate(-105.2) translate(-11.50,12.00)" d="M11.5,-24 A11.5,12 0 1 0 11.5,0 A11.5,12 0 1 0 11.5,-24 Z" fill="none" stroke="#000" stroke-width="2.4" stroke-linecap="round" stroke-linejoin="round"/>
<path transform="translate(563.8,555.4) rotate(-111.4) translate(-7.00,12.50)" d="M0,0 L0,-25 L14,0 L14,-25" fill="none" stroke="#000" stroke-width="2.4" stroke-linecap="round" stroke-linejoin="round"/>
<text transform="translate(42.2,946.8) scale(1.08,1)" font-size="14.8" font-weight="normal" style="font-family:'Liberation Serif', serif" fill="#000" stroke="#000" stroke-width="0.45">44</text>
</svg>
</body></html>
